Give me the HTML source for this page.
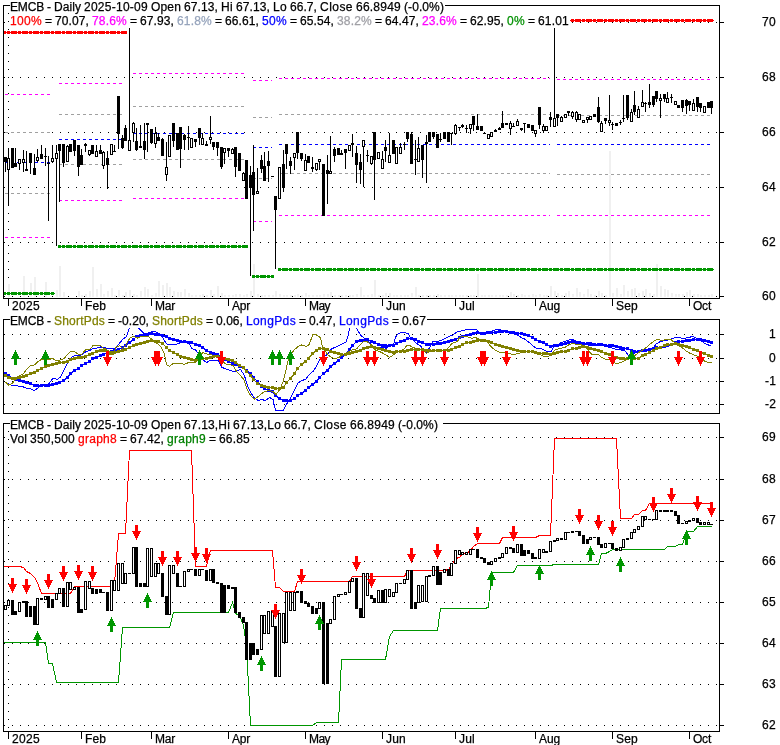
<!DOCTYPE html>
<html lang="en"><head><meta charset="utf-8"><title>EMCB - Daily chart</title>
<style>
html,body{margin:0;padding:0;background:#fff}
#c{position:relative;width:780px;height:745px;overflow:hidden;background:#fff;font-family:"Liberation Sans",Arial,sans-serif;font-size:12px;line-height:14px;color:#000}
#c svg{position:absolute;left:0;top:0}
#c span{position:absolute;white-space:pre;height:14px;-webkit-text-stroke:0.25px currentColor}
</style></head><body>
<div id="c">
<svg width="780" height="745" viewBox="0 0 780 745" shape-rendering="crispEdges">
<path d="M4 22h1v1h-1zM12 22h1v1h-1zM20 22h1v1h-1zM28 22h1v1h-1zM36 22h1v1h-1zM44 22h1v1h-1zM52 22h1v1h-1zM60 22h1v1h-1zM68 22h1v1h-1zM76 22h1v1h-1zM84 22h1v1h-1zM92 22h1v1h-1zM100 22h1v1h-1zM108 22h1v1h-1zM116 22h1v1h-1zM124 22h1v1h-1zM132 22h1v1h-1zM140 22h1v1h-1zM148 22h1v1h-1zM156 22h1v1h-1zM164 22h1v1h-1zM172 22h1v1h-1zM180 22h1v1h-1zM188 22h1v1h-1zM196 22h1v1h-1zM204 22h1v1h-1zM212 22h1v1h-1zM220 22h1v1h-1zM228 22h1v1h-1zM236 22h1v1h-1zM244 22h1v1h-1zM252 22h1v1h-1zM260 22h1v1h-1zM268 22h1v1h-1zM276 22h1v1h-1zM284 22h1v1h-1zM292 22h1v1h-1zM300 22h1v1h-1zM308 22h1v1h-1zM316 22h1v1h-1zM324 22h1v1h-1zM332 22h1v1h-1zM340 22h1v1h-1zM348 22h1v1h-1zM356 22h1v1h-1zM364 22h1v1h-1zM372 22h1v1h-1zM380 22h1v1h-1zM388 22h1v1h-1zM396 22h1v1h-1zM404 22h1v1h-1zM412 22h1v1h-1zM420 22h1v1h-1zM428 22h1v1h-1zM436 22h1v1h-1zM444 22h1v1h-1zM452 22h1v1h-1zM460 22h1v1h-1zM468 22h1v1h-1zM476 22h1v1h-1zM484 22h1v1h-1zM492 22h1v1h-1zM500 22h1v1h-1zM508 22h1v1h-1zM516 22h1v1h-1zM524 22h1v1h-1zM532 22h1v1h-1zM540 22h1v1h-1zM548 22h1v1h-1zM556 22h1v1h-1zM564 22h1v1h-1zM572 22h1v1h-1zM580 22h1v1h-1zM588 22h1v1h-1zM596 22h1v1h-1zM604 22h1v1h-1zM612 22h1v1h-1zM620 22h1v1h-1zM628 22h1v1h-1zM636 22h1v1h-1zM644 22h1v1h-1zM652 22h1v1h-1zM660 22h1v1h-1zM668 22h1v1h-1zM676 22h1v1h-1zM684 22h1v1h-1zM692 22h1v1h-1zM700 22h1v1h-1zM708 22h1v1h-1zM716 22h1v1h-1z" fill="#000"/>
<path d="M4 77h1v1h-1zM12 77h1v1h-1zM20 77h1v1h-1zM28 77h1v1h-1zM36 77h1v1h-1zM44 77h1v1h-1zM52 77h1v1h-1zM60 77h1v1h-1zM68 77h1v1h-1zM76 77h1v1h-1zM84 77h1v1h-1zM92 77h1v1h-1zM100 77h1v1h-1zM108 77h1v1h-1zM116 77h1v1h-1zM124 77h1v1h-1zM132 77h1v1h-1zM140 77h1v1h-1zM148 77h1v1h-1zM156 77h1v1h-1zM164 77h1v1h-1zM172 77h1v1h-1zM180 77h1v1h-1zM188 77h1v1h-1zM196 77h1v1h-1zM204 77h1v1h-1zM212 77h1v1h-1zM220 77h1v1h-1zM228 77h1v1h-1zM236 77h1v1h-1zM244 77h1v1h-1zM252 77h1v1h-1zM260 77h1v1h-1zM268 77h1v1h-1zM276 77h1v1h-1zM284 77h1v1h-1zM292 77h1v1h-1zM300 77h1v1h-1zM308 77h1v1h-1zM316 77h1v1h-1zM324 77h1v1h-1zM332 77h1v1h-1zM340 77h1v1h-1zM348 77h1v1h-1zM356 77h1v1h-1zM364 77h1v1h-1zM372 77h1v1h-1zM380 77h1v1h-1zM388 77h1v1h-1zM396 77h1v1h-1zM404 77h1v1h-1zM412 77h1v1h-1zM420 77h1v1h-1zM428 77h1v1h-1zM436 77h1v1h-1zM444 77h1v1h-1zM452 77h1v1h-1zM460 77h1v1h-1zM468 77h1v1h-1zM476 77h1v1h-1zM484 77h1v1h-1zM492 77h1v1h-1zM500 77h1v1h-1zM508 77h1v1h-1zM516 77h1v1h-1zM524 77h1v1h-1zM532 77h1v1h-1zM540 77h1v1h-1zM548 77h1v1h-1zM556 77h1v1h-1zM564 77h1v1h-1zM572 77h1v1h-1zM580 77h1v1h-1zM588 77h1v1h-1zM596 77h1v1h-1zM604 77h1v1h-1zM612 77h1v1h-1zM620 77h1v1h-1zM628 77h1v1h-1zM636 77h1v1h-1zM644 77h1v1h-1zM652 77h1v1h-1zM660 77h1v1h-1zM668 77h1v1h-1zM676 77h1v1h-1zM684 77h1v1h-1zM692 77h1v1h-1zM700 77h1v1h-1zM708 77h1v1h-1zM716 77h1v1h-1z" fill="#000"/>
<path d="M4 132h1v1h-1zM12 132h1v1h-1zM20 132h1v1h-1zM28 132h1v1h-1zM36 132h1v1h-1zM44 132h1v1h-1zM52 132h1v1h-1zM60 132h1v1h-1zM68 132h1v1h-1zM76 132h1v1h-1zM84 132h1v1h-1zM92 132h1v1h-1zM100 132h1v1h-1zM108 132h1v1h-1zM116 132h1v1h-1zM124 132h1v1h-1zM132 132h1v1h-1zM140 132h1v1h-1zM148 132h1v1h-1zM156 132h1v1h-1zM164 132h1v1h-1zM172 132h1v1h-1zM180 132h1v1h-1zM188 132h1v1h-1zM196 132h1v1h-1zM204 132h1v1h-1zM212 132h1v1h-1zM220 132h1v1h-1zM228 132h1v1h-1zM236 132h1v1h-1zM244 132h1v1h-1zM252 132h1v1h-1zM260 132h1v1h-1zM268 132h1v1h-1zM276 132h1v1h-1zM284 132h1v1h-1zM292 132h1v1h-1zM300 132h1v1h-1zM308 132h1v1h-1zM316 132h1v1h-1zM324 132h1v1h-1zM332 132h1v1h-1zM340 132h1v1h-1zM348 132h1v1h-1zM356 132h1v1h-1zM364 132h1v1h-1zM372 132h1v1h-1zM380 132h1v1h-1zM388 132h1v1h-1zM396 132h1v1h-1zM404 132h1v1h-1zM412 132h1v1h-1zM420 132h1v1h-1zM428 132h1v1h-1zM436 132h1v1h-1zM444 132h1v1h-1zM452 132h1v1h-1zM460 132h1v1h-1zM468 132h1v1h-1zM476 132h1v1h-1zM484 132h1v1h-1zM492 132h1v1h-1zM500 132h1v1h-1zM508 132h1v1h-1zM516 132h1v1h-1zM524 132h1v1h-1zM532 132h1v1h-1zM540 132h1v1h-1zM548 132h1v1h-1zM556 132h1v1h-1zM564 132h1v1h-1zM572 132h1v1h-1zM580 132h1v1h-1zM588 132h1v1h-1zM596 132h1v1h-1zM604 132h1v1h-1zM612 132h1v1h-1zM620 132h1v1h-1zM628 132h1v1h-1zM636 132h1v1h-1zM644 132h1v1h-1zM652 132h1v1h-1zM660 132h1v1h-1zM668 132h1v1h-1zM676 132h1v1h-1zM684 132h1v1h-1zM692 132h1v1h-1zM700 132h1v1h-1zM708 132h1v1h-1zM716 132h1v1h-1z" fill="#000"/>
<path d="M4 187h1v1h-1zM12 187h1v1h-1zM20 187h1v1h-1zM28 187h1v1h-1zM36 187h1v1h-1zM44 187h1v1h-1zM52 187h1v1h-1zM60 187h1v1h-1zM68 187h1v1h-1zM76 187h1v1h-1zM84 187h1v1h-1zM92 187h1v1h-1zM100 187h1v1h-1zM108 187h1v1h-1zM116 187h1v1h-1zM124 187h1v1h-1zM132 187h1v1h-1zM140 187h1v1h-1zM148 187h1v1h-1zM156 187h1v1h-1zM164 187h1v1h-1zM172 187h1v1h-1zM180 187h1v1h-1zM188 187h1v1h-1zM196 187h1v1h-1zM204 187h1v1h-1zM212 187h1v1h-1zM220 187h1v1h-1zM228 187h1v1h-1zM236 187h1v1h-1zM244 187h1v1h-1zM252 187h1v1h-1zM260 187h1v1h-1zM268 187h1v1h-1zM276 187h1v1h-1zM284 187h1v1h-1zM292 187h1v1h-1zM300 187h1v1h-1zM308 187h1v1h-1zM316 187h1v1h-1zM324 187h1v1h-1zM332 187h1v1h-1zM340 187h1v1h-1zM348 187h1v1h-1zM356 187h1v1h-1zM364 187h1v1h-1zM372 187h1v1h-1zM380 187h1v1h-1zM388 187h1v1h-1zM396 187h1v1h-1zM404 187h1v1h-1zM412 187h1v1h-1zM420 187h1v1h-1zM428 187h1v1h-1zM436 187h1v1h-1zM444 187h1v1h-1zM452 187h1v1h-1zM460 187h1v1h-1zM468 187h1v1h-1zM476 187h1v1h-1zM484 187h1v1h-1zM492 187h1v1h-1zM500 187h1v1h-1zM508 187h1v1h-1zM516 187h1v1h-1zM524 187h1v1h-1zM532 187h1v1h-1zM540 187h1v1h-1zM548 187h1v1h-1zM556 187h1v1h-1zM564 187h1v1h-1zM572 187h1v1h-1zM580 187h1v1h-1zM588 187h1v1h-1zM596 187h1v1h-1zM604 187h1v1h-1zM612 187h1v1h-1zM620 187h1v1h-1zM628 187h1v1h-1zM636 187h1v1h-1zM644 187h1v1h-1zM652 187h1v1h-1zM660 187h1v1h-1zM668 187h1v1h-1zM676 187h1v1h-1zM684 187h1v1h-1zM692 187h1v1h-1zM700 187h1v1h-1zM708 187h1v1h-1zM716 187h1v1h-1z" fill="#000"/>
<path d="M4 242h1v1h-1zM12 242h1v1h-1zM20 242h1v1h-1zM28 242h1v1h-1zM36 242h1v1h-1zM44 242h1v1h-1zM52 242h1v1h-1zM60 242h1v1h-1zM68 242h1v1h-1zM76 242h1v1h-1zM84 242h1v1h-1zM92 242h1v1h-1zM100 242h1v1h-1zM108 242h1v1h-1zM116 242h1v1h-1zM124 242h1v1h-1zM132 242h1v1h-1zM140 242h1v1h-1zM148 242h1v1h-1zM156 242h1v1h-1zM164 242h1v1h-1zM172 242h1v1h-1zM180 242h1v1h-1zM188 242h1v1h-1zM196 242h1v1h-1zM204 242h1v1h-1zM212 242h1v1h-1zM220 242h1v1h-1zM228 242h1v1h-1zM236 242h1v1h-1zM244 242h1v1h-1zM252 242h1v1h-1zM260 242h1v1h-1zM268 242h1v1h-1zM276 242h1v1h-1zM284 242h1v1h-1zM292 242h1v1h-1zM300 242h1v1h-1zM308 242h1v1h-1zM316 242h1v1h-1zM324 242h1v1h-1zM332 242h1v1h-1zM340 242h1v1h-1zM348 242h1v1h-1zM356 242h1v1h-1zM364 242h1v1h-1zM372 242h1v1h-1zM380 242h1v1h-1zM388 242h1v1h-1zM396 242h1v1h-1zM404 242h1v1h-1zM412 242h1v1h-1zM420 242h1v1h-1zM428 242h1v1h-1zM436 242h1v1h-1zM444 242h1v1h-1zM452 242h1v1h-1zM460 242h1v1h-1zM468 242h1v1h-1zM476 242h1v1h-1zM484 242h1v1h-1zM492 242h1v1h-1zM500 242h1v1h-1zM508 242h1v1h-1zM516 242h1v1h-1zM524 242h1v1h-1zM532 242h1v1h-1zM540 242h1v1h-1zM548 242h1v1h-1zM556 242h1v1h-1zM564 242h1v1h-1zM572 242h1v1h-1zM580 242h1v1h-1zM588 242h1v1h-1zM596 242h1v1h-1zM604 242h1v1h-1zM612 242h1v1h-1zM620 242h1v1h-1zM628 242h1v1h-1zM636 242h1v1h-1zM644 242h1v1h-1zM652 242h1v1h-1zM660 242h1v1h-1zM668 242h1v1h-1zM676 242h1v1h-1zM684 242h1v1h-1zM692 242h1v1h-1zM700 242h1v1h-1zM708 242h1v1h-1zM716 242h1v1h-1z" fill="#000"/>
<path d="M4 296h1v1h-1zM12 296h1v1h-1zM20 296h1v1h-1zM28 296h1v1h-1zM36 296h1v1h-1zM44 296h1v1h-1zM52 296h1v1h-1zM60 296h1v1h-1zM68 296h1v1h-1zM76 296h1v1h-1zM84 296h1v1h-1zM92 296h1v1h-1zM100 296h1v1h-1zM108 296h1v1h-1zM116 296h1v1h-1zM124 296h1v1h-1zM132 296h1v1h-1zM140 296h1v1h-1zM148 296h1v1h-1zM156 296h1v1h-1zM164 296h1v1h-1zM172 296h1v1h-1zM180 296h1v1h-1zM188 296h1v1h-1zM196 296h1v1h-1zM204 296h1v1h-1zM212 296h1v1h-1zM220 296h1v1h-1zM228 296h1v1h-1zM236 296h1v1h-1zM244 296h1v1h-1zM252 296h1v1h-1zM260 296h1v1h-1zM268 296h1v1h-1zM276 296h1v1h-1zM284 296h1v1h-1zM292 296h1v1h-1zM300 296h1v1h-1zM308 296h1v1h-1zM316 296h1v1h-1zM324 296h1v1h-1zM332 296h1v1h-1zM340 296h1v1h-1zM348 296h1v1h-1zM356 296h1v1h-1zM364 296h1v1h-1zM372 296h1v1h-1zM380 296h1v1h-1zM388 296h1v1h-1zM396 296h1v1h-1zM404 296h1v1h-1zM412 296h1v1h-1zM420 296h1v1h-1zM428 296h1v1h-1zM436 296h1v1h-1zM444 296h1v1h-1zM452 296h1v1h-1zM460 296h1v1h-1zM468 296h1v1h-1zM476 296h1v1h-1zM484 296h1v1h-1zM492 296h1v1h-1zM500 296h1v1h-1zM508 296h1v1h-1zM516 296h1v1h-1zM524 296h1v1h-1zM532 296h1v1h-1zM540 296h1v1h-1zM548 296h1v1h-1zM556 296h1v1h-1zM564 296h1v1h-1zM572 296h1v1h-1zM580 296h1v1h-1zM588 296h1v1h-1zM596 296h1v1h-1zM604 296h1v1h-1zM612 296h1v1h-1zM620 296h1v1h-1zM628 296h1v1h-1zM636 296h1v1h-1zM644 296h1v1h-1zM652 296h1v1h-1zM660 296h1v1h-1zM668 296h1v1h-1zM676 296h1v1h-1zM684 296h1v1h-1zM692 296h1v1h-1zM700 296h1v1h-1zM708 296h1v1h-1zM716 296h1v1h-1z" fill="#000"/>
<path d="M8 13h1v1h-1zM8 21h1v1h-1zM8 29h1v1h-1zM8 37h1v1h-1zM8 45h1v1h-1zM8 53h1v1h-1zM8 61h1v1h-1zM8 69h1v1h-1zM8 77h1v1h-1zM8 85h1v1h-1zM8 93h1v1h-1zM8 101h1v1h-1zM8 109h1v1h-1zM8 117h1v1h-1zM8 125h1v1h-1zM8 133h1v1h-1zM8 141h1v1h-1zM8 149h1v1h-1zM8 157h1v1h-1zM8 165h1v1h-1zM8 173h1v1h-1zM8 181h1v1h-1zM8 189h1v1h-1zM8 197h1v1h-1zM8 205h1v1h-1zM8 213h1v1h-1zM8 221h1v1h-1zM8 229h1v1h-1zM8 237h1v1h-1zM8 245h1v1h-1zM8 253h1v1h-1zM8 261h1v1h-1zM8 269h1v1h-1zM8 277h1v1h-1zM8 285h1v1h-1zM8 293h1v1h-1z" fill="#000"/>
<path d="M8 284h2v13h-2zM23 276h2v21h-2zM30 283h2v14h-2zM34 277h2v20h-2zM45 282h2v15h-2zM56 290h2v7h-2zM59 266h2v31h-2zM63 292h2v5h-2zM78 291h2v6h-2zM81 295h2v2h-2zM85 294h2v3h-2zM89 291h2v6h-2zM92 267h2v30h-2zM96 289h2v8h-2zM100 284h2v13h-2zM103 294h2v3h-2zM107 291h2v6h-2zM111 288h2v9h-2zM114 295h2v2h-2zM118 290h2v7h-2zM122 295h2v2h-2zM125 292h2v5h-2zM129 290h2v7h-2zM133 294h2v3h-2zM136 295h2v2h-2zM140 291h2v6h-2zM144 287h2v10h-2zM147 289h2v8h-2zM151 295h2v2h-2zM155 293h2v4h-2zM158 281h2v16h-2zM162 285h2v12h-2zM166 283h2v14h-2zM169 287h2v10h-2zM173 291h2v6h-2zM177 292h2v5h-2zM180 292h2v5h-2zM184 289h2v8h-2zM188 293h2v4h-2zM191 295h2v2h-2zM195 295h2v2h-2zM199 295h2v2h-2zM202 294h2v3h-2zM206 295h2v2h-2zM210 290h2v7h-2zM213 294h2v3h-2zM217 286h2v11h-2zM221 293h2v4h-2zM224 295h2v2h-2zM228 295h2v2h-2zM232 295h2v2h-2zM235 294h2v3h-2zM239 294h2v3h-2zM243 295h2v2h-2zM246 294h2v3h-2zM250 291h2v6h-2zM253 264h2v33h-2zM257 294h2v3h-2zM261 295h2v2h-2zM264 295h2v2h-2zM268 295h2v2h-2zM272 295h2v2h-2zM275 291h2v6h-2zM279 294h2v3h-2zM283 295h2v2h-2zM286 295h2v2h-2zM290 295h2v2h-2zM294 295h2v2h-2zM297 294h2v3h-2zM301 295h2v2h-2zM305 293h2v4h-2zM308 295h2v2h-2zM312 295h2v2h-2zM316 295h2v2h-2zM319 295h2v2h-2zM323 294h2v3h-2zM327 294h2v3h-2zM330 292h2v5h-2zM334 295h2v2h-2zM338 295h2v2h-2zM341 295h2v2h-2zM345 295h2v2h-2zM349 295h2v2h-2zM352 295h2v2h-2zM356 294h2v3h-2zM360 287h2v10h-2zM363 295h2v2h-2zM367 295h2v2h-2zM371 294h2v3h-2zM374 280h2v17h-2zM378 295h2v2h-2zM382 295h2v2h-2zM385 293h2v4h-2zM389 293h2v4h-2zM393 295h2v2h-2zM396 295h2v2h-2zM400 295h2v2h-2zM404 295h2v2h-2zM407 295h2v2h-2zM411 293h2v4h-2zM415 287h2v10h-2zM418 295h2v2h-2zM422 295h2v2h-2zM426 295h2v2h-2zM429 295h2v2h-2zM433 295h2v2h-2zM437 294h2v3h-2zM440 295h2v2h-2zM444 295h2v2h-2zM448 295h2v2h-2zM451 295h2v2h-2zM455 295h2v2h-2zM459 295h2v2h-2zM462 295h2v2h-2zM466 295h2v2h-2zM470 295h2v2h-2zM473 295h2v2h-2zM477 274h2v23h-2zM481 295h2v2h-2zM484 295h2v2h-2zM488 295h2v2h-2zM491 295h2v2h-2zM495 295h2v2h-2zM499 295h2v2h-2zM502 295h2v2h-2zM506 295h2v2h-2zM510 292h2v5h-2zM513 294h2v3h-2zM517 295h2v2h-2zM521 294h2v3h-2zM524 295h2v2h-2zM528 295h2v2h-2zM532 294h2v3h-2zM535 295h2v2h-2zM539 294h2v3h-2zM543 295h2v2h-2zM546 295h2v2h-2zM550 286h2v11h-2zM554 291h2v6h-2zM557 293h2v4h-2zM561 295h2v2h-2zM565 293h2v4h-2zM568 291h2v6h-2zM572 294h2v3h-2zM576 288h2v9h-2zM579 292h2v5h-2zM583 294h2v3h-2zM587 289h2v8h-2zM590 294h2v3h-2zM594 295h2v2h-2zM598 291h2v6h-2zM601 293h2v4h-2zM605 295h2v2h-2zM609 151h2v146h-2zM612 293h2v4h-2zM616 288h2v9h-2zM620 294h2v3h-2zM623 285h2v12h-2zM627 291h2v6h-2zM631 289h2v8h-2zM634 288h2v9h-2zM638 293h2v4h-2zM642 291h2v6h-2zM645 289h2v8h-2zM649 293h2v4h-2zM653 294h2v3h-2zM656 264h2v33h-2zM660 286h2v11h-2zM664 289h2v8h-2zM667 290h2v7h-2zM671 293h2v4h-2zM675 294h2v3h-2zM678 294h2v3h-2zM682 294h2v3h-2zM686 292h2v5h-2zM689 290h2v7h-2zM693 294h2v3h-2zM697 294h2v3h-2zM700 295h2v2h-2zM704 295h2v2h-2zM708 295h2v2h-2zM711 294h2v3h-2z" fill="#f0f0f0"/>
<rect x="5" y="94" width="45" height="1" fill="#fff"/>
<path d="M5 94h3v1h-3zM11 94h3v1h-3zM17 94h3v1h-3zM23 94h3v1h-3zM29 94h3v1h-3zM35 94h3v1h-3zM41 94h3v1h-3zM47 94h3v1h-3z" fill="#ff00ff"/>
<rect x="5" y="132" width="45" height="1" fill="#fff"/>
<path d="M5 132h3v1h-3zM11 132h3v1h-3zM17 132h3v1h-3zM23 132h3v1h-3zM29 132h3v1h-3zM35 132h3v1h-3zM41 132h3v1h-3zM47 132h3v1h-3z" fill="#a0a0a0"/>
<rect x="5" y="162" width="45" height="1" fill="#fff"/>
<path d="M5 162h3v1h-3zM11 162h3v1h-3zM17 162h3v1h-3zM23 162h3v1h-3zM29 162h3v1h-3zM35 162h3v1h-3zM41 162h3v1h-3zM47 162h3v1h-3z" fill="#0000ff"/>
<rect x="5" y="193" width="45" height="1" fill="#fff"/>
<path d="M5 193h3v1h-3zM11 193h3v1h-3zM17 193h3v1h-3zM23 193h3v1h-3zM29 193h3v1h-3zM35 193h3v1h-3zM41 193h3v1h-3zM47 193h3v1h-3z" fill="#a0a0a0"/>
<rect x="5" y="237" width="45" height="1" fill="#fff"/>
<path d="M5 237h3v1h-3zM11 237h3v1h-3zM17 237h3v1h-3zM23 237h3v1h-3zM29 237h3v1h-3zM35 237h3v1h-3zM41 237h3v1h-3zM47 237h3v1h-3z" fill="#ff00ff"/>
<rect x="59" y="83" width="63" height="1" fill="#fff"/>
<path d="M59 83h3v1h-3zM65 83h3v1h-3zM71 83h3v1h-3zM77 83h3v1h-3zM83 83h3v1h-3zM89 83h3v1h-3zM95 83h3v1h-3zM101 83h3v1h-3zM107 83h3v1h-3zM113 83h3v1h-3zM119 83h3v1h-3z" fill="#ff00ff"/>
<rect x="59" y="114" width="63" height="1" fill="#fff"/>
<path d="M59 114h3v1h-3zM65 114h3v1h-3zM71 114h3v1h-3zM77 114h3v1h-3zM83 114h3v1h-3zM89 114h3v1h-3zM95 114h3v1h-3zM101 114h3v1h-3zM107 114h3v1h-3zM113 114h3v1h-3zM119 114h3v1h-3z" fill="#a0a0a0"/>
<rect x="59" y="139" width="63" height="1" fill="#fff"/>
<path d="M59 139h3v1h-3zM65 139h3v1h-3zM71 139h3v1h-3zM77 139h3v1h-3zM83 139h3v1h-3zM89 139h3v1h-3zM95 139h3v1h-3zM101 139h3v1h-3zM107 139h3v1h-3zM113 139h3v1h-3zM119 139h3v1h-3z" fill="#0000ff"/>
<rect x="59" y="164" width="63" height="1" fill="#fff"/>
<path d="M59 164h3v1h-3zM65 164h3v1h-3zM71 164h3v1h-3zM77 164h3v1h-3zM83 164h3v1h-3zM89 164h3v1h-3zM95 164h3v1h-3zM101 164h3v1h-3zM107 164h3v1h-3zM113 164h3v1h-3zM119 164h3v1h-3z" fill="#a0a0a0"/>
<rect x="59" y="200" width="63" height="1" fill="#fff"/>
<path d="M59 200h3v1h-3zM65 200h3v1h-3zM71 200h3v1h-3zM77 200h3v1h-3zM83 200h3v1h-3zM89 200h3v1h-3zM95 200h3v1h-3zM101 200h3v1h-3zM107 200h3v1h-3zM113 200h3v1h-3zM119 200h3v1h-3z" fill="#ff00ff"/>
<rect x="133" y="73" width="112" height="1" fill="#fff"/>
<path d="M133 73h3v1h-3zM139 73h3v1h-3zM145 73h3v1h-3zM151 73h3v1h-3zM157 73h3v1h-3zM163 73h3v1h-3zM169 73h3v1h-3zM175 73h3v1h-3zM181 73h3v1h-3zM187 73h3v1h-3zM193 73h3v1h-3zM199 73h3v1h-3zM205 73h3v1h-3zM211 73h3v1h-3zM217 73h3v1h-3zM223 73h3v1h-3zM229 73h3v1h-3zM235 73h3v1h-3zM241 73h3v1h-3z" fill="#ff00ff"/>
<rect x="133" y="106" width="112" height="1" fill="#fff"/>
<path d="M133 106h3v1h-3zM139 106h3v1h-3zM145 106h3v1h-3zM151 106h3v1h-3zM157 106h3v1h-3zM163 106h3v1h-3zM169 106h3v1h-3zM175 106h3v1h-3zM181 106h3v1h-3zM187 106h3v1h-3zM193 106h3v1h-3zM199 106h3v1h-3zM205 106h3v1h-3zM211 106h3v1h-3zM217 106h3v1h-3zM223 106h3v1h-3zM229 106h3v1h-3zM235 106h3v1h-3zM241 106h3v1h-3z" fill="#a0a0a0"/>
<rect x="133" y="133" width="112" height="1" fill="#fff"/>
<path d="M133 133h3v1h-3zM139 133h3v1h-3zM145 133h3v1h-3zM151 133h3v1h-3zM157 133h3v1h-3zM163 133h3v1h-3zM169 133h3v1h-3zM175 133h3v1h-3zM181 133h3v1h-3zM187 133h3v1h-3zM193 133h3v1h-3zM199 133h3v1h-3zM205 133h3v1h-3zM211 133h3v1h-3zM217 133h3v1h-3zM223 133h3v1h-3zM229 133h3v1h-3zM235 133h3v1h-3zM241 133h3v1h-3z" fill="#0000ff"/>
<rect x="133" y="159" width="112" height="1" fill="#fff"/>
<path d="M133 159h3v1h-3zM139 159h3v1h-3zM145 159h3v1h-3zM151 159h3v1h-3zM157 159h3v1h-3zM163 159h3v1h-3zM169 159h3v1h-3zM175 159h3v1h-3zM181 159h3v1h-3zM187 159h3v1h-3zM193 159h3v1h-3zM199 159h3v1h-3zM205 159h3v1h-3zM211 159h3v1h-3zM217 159h3v1h-3zM223 159h3v1h-3zM229 159h3v1h-3zM235 159h3v1h-3zM241 159h3v1h-3z" fill="#a0a0a0"/>
<rect x="133" y="198" width="112" height="1" fill="#fff"/>
<path d="M133 198h3v1h-3zM139 198h3v1h-3zM145 198h3v1h-3zM151 198h3v1h-3zM157 198h3v1h-3zM163 198h3v1h-3zM169 198h3v1h-3zM175 198h3v1h-3zM181 198h3v1h-3zM187 198h3v1h-3zM193 198h3v1h-3zM199 198h3v1h-3zM205 198h3v1h-3zM211 198h3v1h-3zM217 198h3v1h-3zM223 198h3v1h-3zM229 198h3v1h-3zM235 198h3v1h-3zM241 198h3v1h-3z" fill="#ff00ff"/>
<rect x="253" y="80" width="19" height="1" fill="#fff"/>
<path d="M253 80h3v1h-3zM259 80h3v1h-3zM265 80h3v1h-3zM271 80h1v1h-1z" fill="#ff00ff"/>
<rect x="253" y="117" width="19" height="1" fill="#fff"/>
<path d="M253 117h3v1h-3zM259 117h3v1h-3zM265 117h3v1h-3zM271 117h1v1h-1z" fill="#a0a0a0"/>
<rect x="253" y="147" width="19" height="1" fill="#fff"/>
<path d="M253 147h3v1h-3zM259 147h3v1h-3zM265 147h3v1h-3zM271 147h1v1h-1z" fill="#0000ff"/>
<rect x="253" y="178" width="19" height="1" fill="#fff"/>
<path d="M253 178h3v1h-3zM259 178h3v1h-3zM265 178h3v1h-3zM271 178h1v1h-1z" fill="#a0a0a0"/>
<rect x="253" y="221" width="19" height="1" fill="#fff"/>
<path d="M253 221h3v1h-3zM259 221h3v1h-3zM265 221h3v1h-3zM271 221h1v1h-1z" fill="#ff00ff"/>
<rect x="279" y="78" width="271" height="1" fill="#fff"/>
<path d="M279 78h3v1h-3zM285 78h3v1h-3zM291 78h3v1h-3zM297 78h3v1h-3zM303 78h3v1h-3zM309 78h3v1h-3zM315 78h3v1h-3zM321 78h3v1h-3zM327 78h3v1h-3zM333 78h3v1h-3zM339 78h3v1h-3zM345 78h3v1h-3zM351 78h3v1h-3zM357 78h3v1h-3zM363 78h3v1h-3zM369 78h3v1h-3zM375 78h3v1h-3zM381 78h3v1h-3zM387 78h3v1h-3zM393 78h3v1h-3zM399 78h3v1h-3zM405 78h3v1h-3zM411 78h3v1h-3zM417 78h3v1h-3zM423 78h3v1h-3zM429 78h3v1h-3zM435 78h3v1h-3zM441 78h3v1h-3zM447 78h3v1h-3zM453 78h3v1h-3zM459 78h3v1h-3zM465 78h3v1h-3zM471 78h3v1h-3zM477 78h3v1h-3zM483 78h3v1h-3zM489 78h3v1h-3zM495 78h3v1h-3zM501 78h3v1h-3zM507 78h3v1h-3zM513 78h3v1h-3zM519 78h3v1h-3zM525 78h3v1h-3zM531 78h3v1h-3zM537 78h3v1h-3zM543 78h3v1h-3zM549 78h1v1h-1z" fill="#ff00ff"/>
<rect x="279" y="114" width="271" height="1" fill="#fff"/>
<path d="M279 114h3v1h-3zM285 114h3v1h-3zM291 114h3v1h-3zM297 114h3v1h-3zM303 114h3v1h-3zM309 114h3v1h-3zM315 114h3v1h-3zM321 114h3v1h-3zM327 114h3v1h-3zM333 114h3v1h-3zM339 114h3v1h-3zM345 114h3v1h-3zM351 114h3v1h-3zM357 114h3v1h-3zM363 114h3v1h-3zM369 114h3v1h-3zM375 114h3v1h-3zM381 114h3v1h-3zM387 114h3v1h-3zM393 114h3v1h-3zM399 114h3v1h-3zM405 114h3v1h-3zM411 114h3v1h-3zM417 114h3v1h-3zM423 114h3v1h-3zM429 114h3v1h-3zM435 114h3v1h-3zM441 114h3v1h-3zM447 114h3v1h-3zM453 114h3v1h-3zM459 114h3v1h-3zM465 114h3v1h-3zM471 114h3v1h-3zM477 114h3v1h-3zM483 114h3v1h-3zM489 114h3v1h-3zM495 114h3v1h-3zM501 114h3v1h-3zM507 114h3v1h-3zM513 114h3v1h-3zM519 114h3v1h-3zM525 114h3v1h-3zM531 114h3v1h-3zM537 114h3v1h-3zM543 114h3v1h-3zM549 114h1v1h-1z" fill="#a0a0a0"/>
<rect x="279" y="144" width="271" height="1" fill="#fff"/>
<path d="M279 144h3v1h-3zM285 144h3v1h-3zM291 144h3v1h-3zM297 144h3v1h-3zM303 144h3v1h-3zM309 144h3v1h-3zM315 144h3v1h-3zM321 144h3v1h-3zM327 144h3v1h-3zM333 144h3v1h-3zM339 144h3v1h-3zM345 144h3v1h-3zM351 144h3v1h-3zM357 144h3v1h-3zM363 144h3v1h-3zM369 144h3v1h-3zM375 144h3v1h-3zM381 144h3v1h-3zM387 144h3v1h-3zM393 144h3v1h-3zM399 144h3v1h-3zM405 144h3v1h-3zM411 144h3v1h-3zM417 144h3v1h-3zM423 144h3v1h-3zM429 144h3v1h-3zM435 144h3v1h-3zM441 144h3v1h-3zM447 144h3v1h-3zM453 144h3v1h-3zM459 144h3v1h-3zM465 144h3v1h-3zM471 144h3v1h-3zM477 144h3v1h-3zM483 144h3v1h-3zM489 144h3v1h-3zM495 144h3v1h-3zM501 144h3v1h-3zM507 144h3v1h-3zM513 144h3v1h-3zM519 144h3v1h-3zM525 144h3v1h-3zM531 144h3v1h-3zM537 144h3v1h-3zM543 144h3v1h-3zM549 144h1v1h-1z" fill="#0000ff"/>
<rect x="279" y="173" width="271" height="1" fill="#fff"/>
<path d="M279 173h3v1h-3zM285 173h3v1h-3zM291 173h3v1h-3zM297 173h3v1h-3zM303 173h3v1h-3zM309 173h3v1h-3zM315 173h3v1h-3zM321 173h3v1h-3zM327 173h3v1h-3zM333 173h3v1h-3zM339 173h3v1h-3zM345 173h3v1h-3zM351 173h3v1h-3zM357 173h3v1h-3zM363 173h3v1h-3zM369 173h3v1h-3zM375 173h3v1h-3zM381 173h3v1h-3zM387 173h3v1h-3zM393 173h3v1h-3zM399 173h3v1h-3zM405 173h3v1h-3zM411 173h3v1h-3zM417 173h3v1h-3zM423 173h3v1h-3zM429 173h3v1h-3zM435 173h3v1h-3zM441 173h3v1h-3zM447 173h3v1h-3zM453 173h3v1h-3zM459 173h3v1h-3zM465 173h3v1h-3zM471 173h3v1h-3zM477 173h3v1h-3zM483 173h3v1h-3zM489 173h3v1h-3zM495 173h3v1h-3zM501 173h3v1h-3zM507 173h3v1h-3zM513 173h3v1h-3zM519 173h3v1h-3zM525 173h3v1h-3zM531 173h3v1h-3zM537 173h3v1h-3zM543 173h3v1h-3zM549 173h1v1h-1z" fill="#a0a0a0"/>
<rect x="279" y="215" width="271" height="1" fill="#fff"/>
<path d="M279 215h3v1h-3zM285 215h3v1h-3zM291 215h3v1h-3zM297 215h3v1h-3zM303 215h3v1h-3zM309 215h3v1h-3zM315 215h3v1h-3zM321 215h3v1h-3zM327 215h3v1h-3zM333 215h3v1h-3zM339 215h3v1h-3zM345 215h3v1h-3zM351 215h3v1h-3zM357 215h3v1h-3zM363 215h3v1h-3zM369 215h3v1h-3zM375 215h3v1h-3zM381 215h3v1h-3zM387 215h3v1h-3zM393 215h3v1h-3zM399 215h3v1h-3zM405 215h3v1h-3zM411 215h3v1h-3zM417 215h3v1h-3zM423 215h3v1h-3zM429 215h3v1h-3zM435 215h3v1h-3zM441 215h3v1h-3zM447 215h3v1h-3zM453 215h3v1h-3zM459 215h3v1h-3zM465 215h3v1h-3zM471 215h3v1h-3zM477 215h3v1h-3zM483 215h3v1h-3zM489 215h3v1h-3zM495 215h3v1h-3zM501 215h3v1h-3zM507 215h3v1h-3zM513 215h3v1h-3zM519 215h3v1h-3zM525 215h3v1h-3zM531 215h3v1h-3zM537 215h3v1h-3zM543 215h3v1h-3zM549 215h1v1h-1z" fill="#ff00ff"/>
<rect x="557" y="79" width="153" height="1" fill="#fff"/>
<path d="M557 79h3v1h-3zM563 79h3v1h-3zM569 79h3v1h-3zM575 79h3v1h-3zM581 79h3v1h-3zM587 79h3v1h-3zM593 79h3v1h-3zM599 79h3v1h-3zM605 79h3v1h-3zM611 79h3v1h-3zM617 79h3v1h-3zM623 79h3v1h-3zM629 79h3v1h-3zM635 79h3v1h-3zM641 79h3v1h-3zM647 79h3v1h-3zM653 79h3v1h-3zM659 79h3v1h-3zM665 79h3v1h-3zM671 79h3v1h-3zM677 79h3v1h-3zM683 79h3v1h-3zM689 79h3v1h-3zM695 79h3v1h-3zM701 79h3v1h-3zM707 79h3v1h-3z" fill="#ff00ff"/>
<rect x="557" y="115" width="153" height="1" fill="#fff"/>
<path d="M557 115h3v1h-3zM563 115h3v1h-3zM569 115h3v1h-3zM575 115h3v1h-3zM581 115h3v1h-3zM587 115h3v1h-3zM593 115h3v1h-3zM599 115h3v1h-3zM605 115h3v1h-3zM611 115h3v1h-3zM617 115h3v1h-3zM623 115h3v1h-3zM629 115h3v1h-3zM635 115h3v1h-3zM641 115h3v1h-3zM647 115h3v1h-3zM653 115h3v1h-3zM659 115h3v1h-3zM665 115h3v1h-3zM671 115h3v1h-3zM677 115h3v1h-3zM683 115h3v1h-3zM689 115h3v1h-3zM695 115h3v1h-3zM701 115h3v1h-3zM707 115h3v1h-3z" fill="#a0a0a0"/>
<rect x="557" y="144" width="153" height="1" fill="#fff"/>
<path d="M557 144h3v1h-3zM563 144h3v1h-3zM569 144h3v1h-3zM575 144h3v1h-3zM581 144h3v1h-3zM587 144h3v1h-3zM593 144h3v1h-3zM599 144h3v1h-3zM605 144h3v1h-3zM611 144h3v1h-3zM617 144h3v1h-3zM623 144h3v1h-3zM629 144h3v1h-3zM635 144h3v1h-3zM641 144h3v1h-3zM647 144h3v1h-3zM653 144h3v1h-3zM659 144h3v1h-3zM665 144h3v1h-3zM671 144h3v1h-3zM677 144h3v1h-3zM683 144h3v1h-3zM689 144h3v1h-3zM695 144h3v1h-3zM701 144h3v1h-3zM707 144h3v1h-3z" fill="#0000ff"/>
<rect x="557" y="174" width="153" height="1" fill="#fff"/>
<path d="M557 174h3v1h-3zM563 174h3v1h-3zM569 174h3v1h-3zM575 174h3v1h-3zM581 174h3v1h-3zM587 174h3v1h-3zM593 174h3v1h-3zM599 174h3v1h-3zM605 174h3v1h-3zM611 174h3v1h-3zM617 174h3v1h-3zM623 174h3v1h-3zM629 174h3v1h-3zM635 174h3v1h-3zM641 174h3v1h-3zM647 174h3v1h-3zM653 174h3v1h-3zM659 174h3v1h-3zM665 174h3v1h-3zM671 174h3v1h-3zM677 174h3v1h-3zM683 174h3v1h-3zM689 174h3v1h-3zM695 174h3v1h-3zM701 174h3v1h-3zM707 174h3v1h-3z" fill="#a0a0a0"/>
<rect x="557" y="215" width="153" height="1" fill="#fff"/>
<path d="M557 215h3v1h-3zM563 215h3v1h-3zM569 215h3v1h-3zM575 215h3v1h-3zM581 215h3v1h-3zM587 215h3v1h-3zM593 215h3v1h-3zM599 215h3v1h-3zM605 215h3v1h-3zM611 215h3v1h-3zM617 215h3v1h-3zM623 215h3v1h-3zM629 215h3v1h-3zM635 215h3v1h-3zM641 215h3v1h-3zM647 215h3v1h-3zM653 215h3v1h-3zM659 215h3v1h-3zM665 215h3v1h-3zM671 215h3v1h-3zM677 215h3v1h-3zM683 215h3v1h-3zM689 215h3v1h-3zM695 215h3v1h-3zM701 215h3v1h-3zM707 215h3v1h-3z" fill="#ff00ff"/>
<path d="M4 293h51v1h-51zM4 292h2v3h-2zM7 292h3v3h-3zM11 292h6v3h-6zM18 292h3v3h-3zM22 292h6v3h-6zM29 292h3v3h-3zM33 292h6v3h-6zM40 292h3v3h-3zM44 292h6v3h-6zM51 292h3v3h-3z" fill="#009600"/>
<path d="M58 246h190v1h-190zM58 245h3v3h-3zM62 245h3v3h-3zM66 245h6v3h-6zM73 245h3v3h-3zM77 245h6v3h-6zM84 245h3v3h-3zM88 245h6v3h-6zM95 245h3v3h-3zM99 245h6v3h-6zM106 245h3v3h-3zM110 245h6v3h-6zM117 245h3v3h-3zM121 245h6v3h-6zM128 245h3v3h-3zM132 245h6v3h-6zM139 245h3v3h-3zM143 245h6v3h-6zM150 245h3v3h-3zM154 245h6v3h-6zM161 245h3v3h-3zM165 245h6v3h-6zM172 245h3v3h-3zM176 245h6v3h-6zM183 245h3v3h-3zM187 245h6v3h-6zM194 245h3v3h-3zM198 245h6v3h-6zM205 245h3v3h-3zM209 245h6v3h-6zM216 245h3v3h-3zM220 245h6v3h-6zM227 245h3v3h-3zM231 245h6v3h-6zM238 245h3v3h-3zM242 245h6v3h-6z" fill="#009600"/>
<path d="M252 276h22v1h-22zM252 275h3v3h-3zM256 275h3v3h-3zM260 275h6v3h-6zM267 275h3v3h-3zM271 275h3v3h-3z" fill="#009600"/>
<path d="M278 269h209v1h-209zM278 268h3v3h-3zM282 268h6v3h-6zM289 268h3v3h-3zM293 268h6v3h-6zM300 268h3v3h-3zM304 268h6v3h-6zM311 268h3v3h-3zM315 268h6v3h-6zM322 268h3v3h-3zM326 268h6v3h-6zM333 268h3v3h-3zM337 268h6v3h-6zM344 268h3v3h-3zM348 268h6v3h-6zM355 268h3v3h-3zM359 268h6v3h-6zM366 268h3v3h-3zM370 268h6v3h-6zM377 268h3v3h-3zM381 268h6v3h-6zM388 268h3v3h-3zM392 268h6v3h-6zM399 268h3v3h-3zM403 268h6v3h-6zM410 268h3v3h-3zM414 268h6v3h-6zM421 268h3v3h-3zM425 268h6v3h-6zM432 268h3v3h-3zM436 268h6v3h-6zM443 268h3v3h-3zM447 268h6v3h-6zM454 268h3v3h-3zM458 268h6v3h-6zM465 268h3v3h-3zM469 268h6v3h-6zM476 268h3v3h-3zM480 268h6v3h-6z" fill="#009600"/>
<path d="M487 269h227v1h-227zM487 268h6v3h-6zM494 268h3v3h-3zM498 268h6v3h-6zM505 268h3v3h-3zM509 268h6v3h-6zM516 268h3v3h-3zM520 268h6v3h-6zM527 268h3v3h-3zM531 268h6v3h-6zM538 268h3v3h-3zM542 268h6v3h-6zM549 268h3v3h-3zM553 268h6v3h-6zM560 268h3v3h-3zM564 268h6v3h-6zM571 268h3v3h-3zM575 268h6v3h-6zM582 268h3v3h-3zM586 268h6v3h-6zM593 268h3v3h-3zM597 268h6v3h-6zM604 268h3v3h-3zM608 268h6v3h-6zM615 268h3v3h-3zM619 268h6v3h-6zM626 268h3v3h-3zM630 268h6v3h-6zM637 268h3v3h-3zM641 268h6v3h-6zM648 268h3v3h-3zM652 268h6v3h-6zM659 268h3v3h-3zM663 268h6v3h-6zM670 268h3v3h-3zM674 268h6v3h-6zM681 268h3v3h-3zM685 268h6v3h-6zM692 268h3v3h-3zM696 268h6v3h-6zM703 268h3v3h-3zM707 268h6v3h-6z" fill="#009600"/>
<path d="M4 32h123v1h-123zM4 31h2v3h-2zM7 31h3v3h-3zM11 31h6v3h-6zM18 31h3v3h-3zM22 31h6v3h-6zM29 31h3v3h-3zM33 31h6v3h-6zM40 31h3v3h-3zM44 31h6v3h-6zM51 31h3v3h-3zM55 31h6v3h-6zM62 31h3v3h-3zM66 31h6v3h-6zM73 31h3v3h-3zM77 31h6v3h-6zM84 31h3v3h-3zM88 31h6v3h-6zM95 31h3v3h-3zM99 31h6v3h-6zM106 31h3v3h-3zM110 31h6v3h-6zM117 31h3v3h-3zM121 31h6v3h-6z" fill="#ff0000"/>
<path d="M278 20h209v1h-209zM278 19h3v3h-3zM282 19h6v3h-6zM289 19h3v3h-3zM293 19h6v3h-6zM300 19h3v3h-3zM304 19h6v3h-6zM311 19h3v3h-3zM315 19h6v3h-6zM322 19h3v3h-3zM326 19h6v3h-6zM333 19h3v3h-3zM337 19h6v3h-6zM344 19h3v3h-3zM348 19h6v3h-6zM355 19h3v3h-3zM359 19h6v3h-6zM366 19h3v3h-3zM370 19h6v3h-6zM377 19h3v3h-3zM381 19h6v3h-6zM388 19h3v3h-3zM392 19h6v3h-6zM399 19h3v3h-3zM403 19h6v3h-6zM410 19h3v3h-3zM414 19h6v3h-6zM421 19h3v3h-3zM425 19h6v3h-6zM432 19h3v3h-3zM436 19h6v3h-6zM443 19h3v3h-3zM447 19h6v3h-6zM454 19h3v3h-3zM458 19h6v3h-6zM465 19h3v3h-3zM469 19h6v3h-6zM476 19h3v3h-3zM480 19h6v3h-6z" fill="#ff0000"/>
<path d="M487 20h227v1h-227zM487 19h6v3h-6zM494 19h3v3h-3zM498 19h6v3h-6zM505 19h3v3h-3zM509 19h6v3h-6zM516 19h3v3h-3zM520 19h6v3h-6zM527 19h3v3h-3zM531 19h6v3h-6zM538 19h3v3h-3zM542 19h6v3h-6zM549 19h3v3h-3zM553 19h6v3h-6zM560 19h3v3h-3zM564 19h6v3h-6zM571 19h3v3h-3zM575 19h6v3h-6zM582 19h3v3h-3zM586 19h6v3h-6zM593 19h3v3h-3zM597 19h6v3h-6zM604 19h3v3h-3zM608 19h6v3h-6zM615 19h3v3h-3zM619 19h6v3h-6zM626 19h3v3h-3zM630 19h6v3h-6zM637 19h3v3h-3zM641 19h6v3h-6zM648 19h3v3h-3zM652 19h6v3h-6zM659 19h3v3h-3zM663 19h6v3h-6zM670 19h3v3h-3zM674 19h6v3h-6zM681 19h3v3h-3zM685 19h6v3h-6zM692 19h3v3h-3zM696 19h6v3h-6zM703 19h3v3h-3zM707 19h6v3h-6z" fill="#ff0000"/>
<path d="M5 162h1v10h-1zM4 157h3v5h-3zM8 148h1v10h-1zM8 170h1v36h-1zM7 158h3v12h-3zM11 148h3v20h-3zM15 148h1v15h-1zM14 163h3v4h-3zM19 164h1v6h-1zM18 159h3v5h-3zM23 150h1v9h-1zM23 163h1v9h-1zM22 159h3v4h-3zM26 151h1v18h-1zM25 169h3v2h-3zM30 163h1v11h-1zM29 153h3v10h-3zM34 154h1v14h-1zM33 168h3v7h-3zM37 149h1v8h-1zM37 161h1v1h-1zM36 157h3v4h-3zM41 145h1v9h-1zM40 154h3v5h-3zM45 148h1v8h-1zM45 157h1v9h-1zM44 156h3v1h-3zM48 156h1v7h-1zM48 164h1v57h-1zM47 163h3v1h-3zM52 145h1v13h-1zM52 162h1v1h-1zM51 158h3v4h-3zM56 145h1v8h-1zM56 159h1v87h-1zM55 153h3v6h-3zM59 151h1v51h-1zM58 144h3v7h-3zM63 163h1v4h-1zM62 144h3v19h-3zM67 145h1v1h-1zM66 146h3v16h-3zM69 144h3v8h-3zM74 151h1v5h-1zM73 140h3v11h-3zM78 167h1v9h-1zM77 145h3v22h-3zM81 149h1v6h-1zM80 155h3v10h-3zM85 143h1v1h-1zM85 146h1v6h-1zM84 144h3v2h-3zM89 155h1v1h-1zM88 150h3v5h-3zM91 145h3v9h-3zM96 145h1v6h-1zM95 151h3v6h-3zM100 145h1v5h-1zM99 150h3v4h-3zM103 151h1v1h-1zM103 166h1v3h-1zM102 152h3v14h-3zM107 151h1v7h-1zM107 165h1v24h-1zM106 158h3v7h-3zM110 144h3v11h-3zM114 145h1v6h-1zM113 151h3v1h-3zM118 134h1v15h-1zM117 96h3v38h-3zM122 135h1v3h-1zM122 148h1v1h-1zM121 138h3v10h-3zM125 125h1v3h-1zM124 128h3v13h-3zM129 28h1v112h-1zM128 140h3v11h-3zM133 122h1v1h-1zM133 133h1v9h-1zM132 123h3v10h-3zM136 128h1v13h-1zM136 150h1v1h-1zM135 141h3v9h-3zM140 125h1v21h-1zM139 146h3v2h-3zM144 123h1v18h-1zM144 150h1v9h-1zM143 141h3v9h-3zM147 125h1v27h-1zM146 123h3v2h-3zM151 143h1v1h-1zM150 129h3v14h-3zM155 127h1v6h-1zM155 144h1v4h-1zM154 133h3v11h-3zM158 133h1v4h-1zM157 137h3v4h-3zM162 138h1v1h-1zM161 139h3v17h-3zM166 142h1v25h-1zM166 175h1v6h-1zM165 167h3v8h-3zM168 135h3v22h-3zM173 141h1v6h-1zM172 123h3v18h-3zM176 133h3v17h-3zM180 149h1v19h-1zM179 127h3v22h-3zM184 134h1v1h-1zM184 140h1v10h-1zM183 135h3v5h-3zM188 126h1v11h-1zM188 138h1v12h-1zM187 137h3v1h-3zM190 138h3v10h-3zM195 142h1v5h-1zM194 139h3v3h-3zM199 138h1v7h-1zM198 128h3v10h-3zM202 133h1v5h-1zM201 138h3v7h-3zM206 141h1v3h-1zM205 144h3v2h-3zM210 116h1v21h-1zM210 140h1v4h-1zM209 137h3v3h-3zM213 147h1v3h-1zM212 142h3v5h-3zM217 148h1v8h-1zM216 142h3v6h-3zM221 167h1v2h-1zM220 147h3v20h-3zM224 153h1v11h-1zM223 148h3v5h-3zM228 151h1v6h-1zM227 148h3v3h-3zM232 148h1v1h-1zM231 149h3v5h-3zM235 167h1v10h-1zM234 147h3v20h-3zM238 153h3v18h-3zM243 172h1v1h-1zM242 173h3v8h-3zM245 160h3v39h-3zM250 166h1v9h-1zM250 188h1v88h-1zM249 175h3v13h-3zM253 145h1v27h-1zM253 195h1v36h-1zM252 172h3v23h-3zM257 168h1v23h-1zM256 191h3v3h-3zM261 155h1v5h-1zM261 169h1v4h-1zM260 160h3v9h-3zM264 152h1v14h-1zM263 166h3v15h-3zM268 151h1v10h-1zM268 166h1v16h-1zM267 161h3v5h-3zM271 176h3v1h-3zM275 210h1v59h-1zM274 196h3v14h-3zM278 167h3v32h-3zM283 150h1v14h-1zM283 188h1v4h-1zM282 164h3v24h-3zM286 154h1v15h-1zM285 144h3v10h-3zM290 157h1v4h-1zM290 166h1v8h-1zM289 161h3v5h-3zM294 158h1v12h-1zM293 153h3v5h-3zM297 153h1v6h-1zM296 132h3v21h-3zM301 159h1v2h-1zM300 153h3v6h-3zM305 154h1v6h-1zM304 160h3v11h-3zM307 156h3v7h-3zM312 157h1v10h-1zM312 169h1v3h-1zM311 167h3v2h-3zM316 170h1v1h-1zM315 163h3v7h-3zM319 162h1v8h-1zM318 159h3v3h-3zM322 164h3v52h-3zM327 155h1v15h-1zM327 174h1v30h-1zM326 170h3v4h-3zM330 136h1v35h-1zM329 171h3v3h-3zM334 147h1v2h-1zM334 156h1v6h-1zM333 149h3v7h-3zM337 148h3v7h-3zM341 150h1v3h-1zM340 153h3v2h-3zM345 153h1v16h-1zM344 149h3v4h-3zM348 145h3v6h-3zM352 134h1v9h-1zM352 145h1v12h-1zM351 143h3v2h-3zM356 146h1v7h-1zM356 165h1v18h-1zM355 153h3v12h-3zM360 154h1v8h-1zM360 170h1v14h-1zM359 162h3v8h-3zM363 147h1v40h-1zM362 140h3v7h-3zM367 150h1v5h-1zM367 156h1v6h-1zM366 155h3v1h-3zM371 164h1v1h-1zM370 156h3v8h-3zM374 160h1v40h-1zM373 132h3v28h-3zM377 152h3v7h-3zM382 151h1v8h-1zM381 159h3v10h-3zM385 140h1v7h-1zM385 151h1v11h-1zM384 147h3v4h-3zM389 133h1v22h-1zM388 155h3v8h-3zM392 140h3v14h-3zM395 147h3v17h-3zM400 143h1v4h-1zM399 147h3v7h-3zM404 142h1v2h-1zM404 145h1v5h-1zM403 144h3v1h-3zM407 139h1v3h-1zM406 132h3v7h-3zM411 132h1v2h-1zM410 134h3v30h-3zM415 140h1v19h-1zM415 160h1v15h-1zM414 159h3v1h-3zM418 137h1v11h-1zM417 148h3v14h-3zM422 160h1v18h-1zM421 145h3v15h-3zM426 135h1v7h-1zM426 144h1v39h-1zM425 142h3v2h-3zM428 132h3v10h-3zM433 137h1v2h-1zM432 132h3v5h-3zM436 134h3v14h-3zM440 133h1v6h-1zM440 140h1v2h-1zM439 139h3v1h-3zM443 132h3v7h-3zM447 132h3v10h-3zM451 134h1v11h-1zM450 133h3v1h-3zM455 124h1v1h-1zM455 134h1v1h-1zM454 125h3v9h-3zM459 128h1v3h-1zM458 127h3v1h-3zM462 124h1v1h-1zM462 127h1v1h-1zM461 125h3v2h-3zM466 125h1v3h-1zM466 129h1v4h-1zM465 128h3v1h-3zM470 129h1v5h-1zM469 124h3v5h-3zM473 125h1v6h-1zM472 116h3v9h-3zM477 114h1v12h-1zM476 126h3v4h-3zM480 126h3v5h-3zM484 132h1v1h-1zM483 133h3v1h-3zM487 134h3v5h-3zM490 132h3v5h-3zM495 129h1v1h-1zM494 130h3v2h-3zM499 127h1v1h-1zM498 128h3v2h-3zM502 111h1v12h-1zM501 123h3v5h-3zM505 123h3v2h-3zM510 121h1v2h-1zM510 129h1v6h-1zM509 123h3v6h-3zM513 123h1v3h-1zM512 126h3v1h-3zM517 119h1v2h-1zM516 121h3v5h-3zM521 130h1v1h-1zM520 128h3v2h-3zM524 124h1v9h-1zM523 123h3v1h-3zM527 124h3v4h-3zM531 125h3v6h-3zM535 134h1v3h-1zM534 130h3v4h-3zM539 125h1v4h-1zM538 107h3v18h-3zM543 124h1v2h-1zM543 131h1v2h-1zM542 126h3v5h-3zM545 126h3v5h-3zM550 112h1v5h-1zM550 120h1v7h-1zM549 117h3v3h-3zM554 28h1v90h-1zM553 118h3v9h-3zM557 118h1v8h-1zM556 114h3v4h-3zM561 116h1v1h-1zM560 117h3v5h-3zM564 114h3v4h-3zM568 113h1v3h-1zM567 111h3v2h-3zM572 111h1v1h-1zM572 117h1v2h-1zM571 112h3v5h-3zM576 111h1v1h-1zM576 120h1v2h-1zM575 112h3v8h-3zM578 114h3v6h-3zM582 120h3v3h-3zM587 120h1v3h-1zM586 117h3v3h-3zM589 116h3v4h-3zM593 114h3v3h-3zM598 97h1v10h-1zM598 122h1v1h-1zM597 107h3v15h-3zM601 121h1v2h-1zM600 123h3v9h-3zM605 121h1v3h-1zM604 118h3v3h-3zM609 95h1v25h-1zM609 123h1v3h-1zM608 120h3v3h-3zM612 122h1v2h-1zM612 125h1v5h-1zM611 124h3v1h-3zM615 123h3v3h-3zM620 120h1v2h-1zM620 123h1v2h-1zM619 122h3v1h-3zM623 95h1v23h-1zM623 119h1v3h-1zM622 118h3v1h-3zM627 118h1v2h-1zM626 95h3v23h-3zM631 109h1v3h-1zM630 112h3v10h-3zM634 91h1v14h-1zM634 112h1v3h-1zM633 105h3v7h-3zM638 106h1v3h-1zM637 109h3v9h-3zM642 90h1v12h-1zM641 102h3v5h-3zM645 102h1v1h-1zM645 104h1v8h-1zM644 103h3v1h-3zM649 84h1v18h-1zM649 105h1v3h-1zM648 102h3v3h-3zM653 105h1v2h-1zM652 96h3v9h-3zM656 99h1v3h-1zM655 91h3v8h-3zM660 94h1v4h-1zM660 101h1v17h-1zM659 98h3v3h-3zM664 99h1v3h-1zM663 94h3v5h-3zM667 92h1v6h-1zM666 98h3v5h-3zM671 94h1v3h-1zM671 98h1v5h-1zM670 97h3v1h-3zM674 101h3v4h-3zM677 105h3v3h-3zM682 108h1v4h-1zM681 100h3v8h-3zM686 99h1v1h-1zM686 106h1v8h-1zM685 100h3v6h-3zM689 105h1v6h-1zM688 101h3v4h-3zM693 99h1v4h-1zM692 103h3v8h-3zM697 107h1v5h-1zM696 97h3v10h-3zM700 108h1v4h-1zM699 103h3v5h-3zM703 106h3v7h-3zM707 102h3v6h-3zM711 108h1v6h-1zM710 101h3v7h-3z" fill="#000"/>
<path d="M8 159h1v10h-1zM19 160h1v3h-1zM23 160h1v2h-1zM37 158h1v2h-1zM52 159h1v2h-1zM56 154h1v4h-1zM67 147h1v14h-1zM89 151h1v3h-1zM96 152h1v4h-1zM103 153h1v12h-1zM111 145h1v9h-1zM129 141h1v9h-1zM133 124h1v8h-1zM155 134h1v9h-1zM166 168h1v6h-1zM169 136h1v20h-1zM191 139h1v8h-1zM202 139h1v5h-1zM210 138h1v1h-1zM224 149h1v3h-1zM232 150h1v3h-1zM243 174h1v6h-1zM257 192h1v1h-1zM279 168h1v30h-1zM294 154h1v3h-1zM305 161h1v9h-1zM316 164h1v5h-1zM319 160h1v1h-1zM330 172h1v1h-1zM349 146h1v4h-1zM363 141h1v5h-1zM371 157h1v6h-1zM378 153h1v5h-1zM382 160h1v8h-1zM389 156h1v6h-1zM396 148h1v15h-1zM400 148h1v5h-1zM418 149h1v12h-1zM455 126h1v7h-1zM470 125h1v3h-1zM488 135h1v3h-1zM491 133h1v3h-1zM510 124h1v4h-1zM517 122h1v3h-1zM535 131h1v2h-1zM543 127h1v3h-1zM546 127h1v3h-1zM554 119h1v7h-1zM561 118h1v3h-1zM565 115h1v2h-1zM572 113h1v3h-1zM576 113h1v6h-1zM579 115h1v4h-1zM583 121h1v1h-1zM587 118h1v1h-1zM590 117h1v2h-1zM601 124h1v7h-1zM609 121h1v1h-1zM631 113h1v8h-1zM638 110h1v7h-1zM642 103h1v3h-1zM660 99h1v1h-1zM667 99h1v3h-1zM675 102h1v2h-1zM693 104h1v6h-1zM704 107h1v5h-1z" fill="#fff"/>
<rect x="10" y="0" width="435" height="14" fill="#fff"/>
<rect x="10" y="14" width="560" height="14" fill="#fff"/>
<rect x="3" y="5" width="1" height="294" fill="#000"/>
<rect x="719" y="5" width="1" height="294" fill="#000"/>
<rect x="3" y="5" width="7" height="1" fill="#000"/>
<rect x="445" y="5" width="275" height="1" fill="#000"/>
<rect x="3" y="298" width="717" height="1" fill="#000"/>
<rect x="720" y="22" width="4" height="1" fill="#000"/>
<rect x="720" y="77" width="4" height="1" fill="#000"/>
<rect x="720" y="132" width="4" height="1" fill="#000"/>
<rect x="720" y="187" width="4" height="1" fill="#000"/>
<rect x="720" y="242" width="4" height="1" fill="#000"/>
<rect x="720" y="296" width="4" height="1" fill="#000"/>
<rect x="8" y="299" width="1" height="7" fill="#000"/>
<rect x="81" y="299" width="1" height="7" fill="#000"/>
<rect x="151" y="299" width="1" height="7" fill="#000"/>
<rect x="228" y="299" width="1" height="7" fill="#000"/>
<rect x="305" y="299" width="1" height="7" fill="#000"/>
<rect x="382" y="299" width="1" height="7" fill="#000"/>
<rect x="455" y="299" width="1" height="7" fill="#000"/>
<rect x="535" y="299" width="1" height="7" fill="#000"/>
<rect x="612" y="299" width="1" height="7" fill="#000"/>
<rect x="689" y="299" width="1" height="7" fill="#000"/>
<path d="M4 334h1v1h-1zM12 334h1v1h-1zM20 334h1v1h-1zM28 334h1v1h-1zM36 334h1v1h-1zM44 334h1v1h-1zM52 334h1v1h-1zM60 334h1v1h-1zM68 334h1v1h-1zM76 334h1v1h-1zM84 334h1v1h-1zM92 334h1v1h-1zM100 334h1v1h-1zM108 334h1v1h-1zM116 334h1v1h-1zM124 334h1v1h-1zM132 334h1v1h-1zM140 334h1v1h-1zM148 334h1v1h-1zM156 334h1v1h-1zM164 334h1v1h-1zM172 334h1v1h-1zM180 334h1v1h-1zM188 334h1v1h-1zM196 334h1v1h-1zM204 334h1v1h-1zM212 334h1v1h-1zM220 334h1v1h-1zM228 334h1v1h-1zM236 334h1v1h-1zM244 334h1v1h-1zM252 334h1v1h-1zM260 334h1v1h-1zM268 334h1v1h-1zM276 334h1v1h-1zM284 334h1v1h-1zM292 334h1v1h-1zM300 334h1v1h-1zM308 334h1v1h-1zM316 334h1v1h-1zM324 334h1v1h-1zM332 334h1v1h-1zM340 334h1v1h-1zM348 334h1v1h-1zM356 334h1v1h-1zM364 334h1v1h-1zM372 334h1v1h-1zM380 334h1v1h-1zM388 334h1v1h-1zM396 334h1v1h-1zM404 334h1v1h-1zM412 334h1v1h-1zM420 334h1v1h-1zM428 334h1v1h-1zM436 334h1v1h-1zM444 334h1v1h-1zM452 334h1v1h-1zM460 334h1v1h-1zM468 334h1v1h-1zM476 334h1v1h-1zM484 334h1v1h-1zM492 334h1v1h-1zM500 334h1v1h-1zM508 334h1v1h-1zM516 334h1v1h-1zM524 334h1v1h-1zM532 334h1v1h-1zM540 334h1v1h-1zM548 334h1v1h-1zM556 334h1v1h-1zM564 334h1v1h-1zM572 334h1v1h-1zM580 334h1v1h-1zM588 334h1v1h-1zM596 334h1v1h-1zM604 334h1v1h-1zM612 334h1v1h-1zM620 334h1v1h-1zM628 334h1v1h-1zM636 334h1v1h-1zM644 334h1v1h-1zM652 334h1v1h-1zM660 334h1v1h-1zM668 334h1v1h-1zM676 334h1v1h-1zM684 334h1v1h-1zM692 334h1v1h-1zM700 334h1v1h-1zM708 334h1v1h-1zM716 334h1v1h-1z" fill="#000"/>
<path d="M4 358h1v1h-1zM12 358h1v1h-1zM20 358h1v1h-1zM28 358h1v1h-1zM36 358h1v1h-1zM44 358h1v1h-1zM52 358h1v1h-1zM60 358h1v1h-1zM68 358h1v1h-1zM76 358h1v1h-1zM84 358h1v1h-1zM92 358h1v1h-1zM100 358h1v1h-1zM108 358h1v1h-1zM116 358h1v1h-1zM124 358h1v1h-1zM132 358h1v1h-1zM140 358h1v1h-1zM148 358h1v1h-1zM156 358h1v1h-1zM164 358h1v1h-1zM172 358h1v1h-1zM180 358h1v1h-1zM188 358h1v1h-1zM196 358h1v1h-1zM204 358h1v1h-1zM212 358h1v1h-1zM220 358h1v1h-1zM228 358h1v1h-1zM236 358h1v1h-1zM244 358h1v1h-1zM252 358h1v1h-1zM260 358h1v1h-1zM268 358h1v1h-1zM276 358h1v1h-1zM284 358h1v1h-1zM292 358h1v1h-1zM300 358h1v1h-1zM308 358h1v1h-1zM316 358h1v1h-1zM324 358h1v1h-1zM332 358h1v1h-1zM340 358h1v1h-1zM348 358h1v1h-1zM356 358h1v1h-1zM364 358h1v1h-1zM372 358h1v1h-1zM380 358h1v1h-1zM388 358h1v1h-1zM396 358h1v1h-1zM404 358h1v1h-1zM412 358h1v1h-1zM420 358h1v1h-1zM428 358h1v1h-1zM436 358h1v1h-1zM444 358h1v1h-1zM452 358h1v1h-1zM460 358h1v1h-1zM468 358h1v1h-1zM476 358h1v1h-1zM484 358h1v1h-1zM492 358h1v1h-1zM500 358h1v1h-1zM508 358h1v1h-1zM516 358h1v1h-1zM524 358h1v1h-1zM532 358h1v1h-1zM540 358h1v1h-1zM548 358h1v1h-1zM556 358h1v1h-1zM564 358h1v1h-1zM572 358h1v1h-1zM580 358h1v1h-1zM588 358h1v1h-1zM596 358h1v1h-1zM604 358h1v1h-1zM612 358h1v1h-1zM620 358h1v1h-1zM628 358h1v1h-1zM636 358h1v1h-1zM644 358h1v1h-1zM652 358h1v1h-1zM660 358h1v1h-1zM668 358h1v1h-1zM676 358h1v1h-1zM684 358h1v1h-1zM692 358h1v1h-1zM700 358h1v1h-1zM708 358h1v1h-1zM716 358h1v1h-1z" fill="#000"/>
<path d="M4 381h1v1h-1zM12 381h1v1h-1zM20 381h1v1h-1zM28 381h1v1h-1zM36 381h1v1h-1zM44 381h1v1h-1zM52 381h1v1h-1zM60 381h1v1h-1zM68 381h1v1h-1zM76 381h1v1h-1zM84 381h1v1h-1zM92 381h1v1h-1zM100 381h1v1h-1zM108 381h1v1h-1zM116 381h1v1h-1zM124 381h1v1h-1zM132 381h1v1h-1zM140 381h1v1h-1zM148 381h1v1h-1zM156 381h1v1h-1zM164 381h1v1h-1zM172 381h1v1h-1zM180 381h1v1h-1zM188 381h1v1h-1zM196 381h1v1h-1zM204 381h1v1h-1zM212 381h1v1h-1zM220 381h1v1h-1zM228 381h1v1h-1zM236 381h1v1h-1zM244 381h1v1h-1zM252 381h1v1h-1zM260 381h1v1h-1zM268 381h1v1h-1zM276 381h1v1h-1zM284 381h1v1h-1zM292 381h1v1h-1zM300 381h1v1h-1zM308 381h1v1h-1zM316 381h1v1h-1zM324 381h1v1h-1zM332 381h1v1h-1zM340 381h1v1h-1zM348 381h1v1h-1zM356 381h1v1h-1zM364 381h1v1h-1zM372 381h1v1h-1zM380 381h1v1h-1zM388 381h1v1h-1zM396 381h1v1h-1zM404 381h1v1h-1zM412 381h1v1h-1zM420 381h1v1h-1zM428 381h1v1h-1zM436 381h1v1h-1zM444 381h1v1h-1zM452 381h1v1h-1zM460 381h1v1h-1zM468 381h1v1h-1zM476 381h1v1h-1zM484 381h1v1h-1zM492 381h1v1h-1zM500 381h1v1h-1zM508 381h1v1h-1zM516 381h1v1h-1zM524 381h1v1h-1zM532 381h1v1h-1zM540 381h1v1h-1zM548 381h1v1h-1zM556 381h1v1h-1zM564 381h1v1h-1zM572 381h1v1h-1zM580 381h1v1h-1zM588 381h1v1h-1zM596 381h1v1h-1zM604 381h1v1h-1zM612 381h1v1h-1zM620 381h1v1h-1zM628 381h1v1h-1zM636 381h1v1h-1zM644 381h1v1h-1zM652 381h1v1h-1zM660 381h1v1h-1zM668 381h1v1h-1zM676 381h1v1h-1zM684 381h1v1h-1zM692 381h1v1h-1zM700 381h1v1h-1zM708 381h1v1h-1zM716 381h1v1h-1z" fill="#000"/>
<path d="M4 404h1v1h-1zM12 404h1v1h-1zM20 404h1v1h-1zM28 404h1v1h-1zM36 404h1v1h-1zM44 404h1v1h-1zM52 404h1v1h-1zM60 404h1v1h-1zM68 404h1v1h-1zM76 404h1v1h-1zM84 404h1v1h-1zM92 404h1v1h-1zM100 404h1v1h-1zM108 404h1v1h-1zM116 404h1v1h-1zM124 404h1v1h-1zM132 404h1v1h-1zM140 404h1v1h-1zM148 404h1v1h-1zM156 404h1v1h-1zM164 404h1v1h-1zM172 404h1v1h-1zM180 404h1v1h-1zM188 404h1v1h-1zM196 404h1v1h-1zM204 404h1v1h-1zM212 404h1v1h-1zM220 404h1v1h-1zM228 404h1v1h-1zM236 404h1v1h-1zM244 404h1v1h-1zM252 404h1v1h-1zM260 404h1v1h-1zM268 404h1v1h-1zM276 404h1v1h-1zM284 404h1v1h-1zM292 404h1v1h-1zM300 404h1v1h-1zM308 404h1v1h-1zM316 404h1v1h-1zM324 404h1v1h-1zM332 404h1v1h-1zM340 404h1v1h-1zM348 404h1v1h-1zM356 404h1v1h-1zM364 404h1v1h-1zM372 404h1v1h-1zM380 404h1v1h-1zM388 404h1v1h-1zM396 404h1v1h-1zM404 404h1v1h-1zM412 404h1v1h-1zM420 404h1v1h-1zM428 404h1v1h-1zM436 404h1v1h-1zM444 404h1v1h-1zM452 404h1v1h-1zM460 404h1v1h-1zM468 404h1v1h-1zM476 404h1v1h-1zM484 404h1v1h-1zM492 404h1v1h-1zM500 404h1v1h-1zM508 404h1v1h-1zM516 404h1v1h-1zM524 404h1v1h-1zM532 404h1v1h-1zM540 404h1v1h-1zM548 404h1v1h-1zM556 404h1v1h-1zM564 404h1v1h-1zM572 404h1v1h-1zM580 404h1v1h-1zM588 404h1v1h-1zM596 404h1v1h-1zM604 404h1v1h-1zM612 404h1v1h-1zM620 404h1v1h-1zM628 404h1v1h-1zM636 404h1v1h-1zM644 404h1v1h-1zM652 404h1v1h-1zM660 404h1v1h-1zM668 404h1v1h-1zM676 404h1v1h-1zM684 404h1v1h-1zM692 404h1v1h-1zM700 404h1v1h-1zM708 404h1v1h-1zM716 404h1v1h-1z" fill="#000"/>
<path d="M4 372h3v3h-3zM7 374h3v3h-3zM11 377h3v3h-3zM14 378h3v3h-3zM18 379h3v3h-3zM22 380h3v3h-3zM25 381h3v3h-3zM29 382h3v3h-3zM33 384h3v3h-3zM36 384h3v3h-3zM40 384h3v3h-3zM44 384h3v3h-3zM47 384h3v3h-3zM51 383h3v3h-3zM55 382h3v3h-3zM58 381h3v3h-3zM62 379h3v3h-3zM66 376h3v3h-3zM69 372h3v3h-3zM73 369h3v3h-3zM77 367h3v3h-3zM80 364h3v3h-3zM84 362h3v3h-3zM88 360h3v3h-3zM91 357h3v3h-3zM95 356h3v3h-3zM99 354h3v3h-3zM102 353h3v3h-3zM106 351h3v3h-3zM110 350h3v3h-3zM113 349h3v3h-3zM117 348h3v3h-3zM121 346h3v3h-3zM124 344h3v3h-3zM128 341h3v3h-3zM132 338h3v3h-3zM135 335h3v3h-3zM139 334h3v3h-3zM143 333h3v3h-3zM146 333h3v3h-3zM150 332h3v3h-3zM154 333h3v3h-3zM157 333h3v3h-3zM161 334h3v3h-3zM165 335h3v3h-3zM168 337h3v3h-3zM172 338h3v3h-3zM176 339h3v3h-3zM179 340h3v3h-3zM183 340h3v3h-3zM187 341h3v3h-3zM190 341h3v3h-3zM194 343h3v3h-3zM198 344h3v3h-3zM201 346h3v3h-3zM205 349h3v3h-3zM209 351h3v3h-3zM212 352h3v3h-3zM216 353h3v3h-3zM220 355h3v3h-3zM223 358h3v3h-3zM227 360h3v3h-3zM231 362h3v3h-3zM234 363h3v3h-3zM238 365h3v3h-3zM242 366h3v3h-3zM245 369h3v3h-3zM249 372h3v3h-3zM252 376h3v3h-3zM256 380h3v3h-3zM260 385h3v3h-3zM263 387h3v3h-3zM267 389h3v3h-3zM271 390h3v3h-3zM274 394h3v3h-3zM278 397h3v3h-3zM282 399h3v3h-3zM285 399h3v3h-3zM289 399h3v3h-3zM293 397h3v3h-3zM296 394h3v3h-3zM300 392h3v3h-3zM304 389h3v3h-3zM307 386h3v3h-3zM311 383h3v3h-3zM315 380h3v3h-3zM318 376h3v3h-3zM322 372h3v3h-3zM326 369h3v3h-3zM329 365h3v3h-3zM333 362h3v3h-3zM337 359h3v3h-3zM340 356h3v3h-3zM344 353h3v3h-3zM348 348h3v3h-3zM351 344h3v3h-3zM355 340h3v3h-3zM359 339h3v3h-3zM362 339h3v3h-3zM366 338h3v3h-3zM370 340h3v3h-3zM373 341h3v3h-3zM377 343h3v3h-3zM381 344h3v3h-3zM384 344h3v3h-3zM388 344h3v3h-3zM392 344h3v3h-3zM395 342h3v3h-3zM399 340h3v3h-3zM403 339h3v3h-3zM406 337h3v3h-3zM410 337h3v3h-3zM414 338h3v3h-3zM417 340h3v3h-3zM421 341h3v3h-3zM425 343h3v3h-3zM428 343h3v3h-3zM432 343h3v3h-3zM436 342h3v3h-3zM439 342h3v3h-3zM443 341h3v3h-3zM447 340h3v3h-3zM450 339h3v3h-3zM454 338h3v3h-3zM458 336h3v3h-3zM461 335h3v3h-3zM465 334h3v3h-3zM469 333h3v3h-3zM472 332h3v3h-3zM476 331h3v3h-3zM480 332h3v3h-3zM483 332h3v3h-3zM487 331h3v3h-3zM490 331h3v3h-3zM494 331h3v3h-3zM498 330h3v3h-3zM501 330h3v3h-3zM505 330h3v3h-3zM509 331h3v3h-3zM512 331h3v3h-3zM516 332h3v3h-3zM520 332h3v3h-3zM523 333h3v3h-3zM527 334h3v3h-3zM531 336h3v3h-3zM534 338h3v3h-3zM538 340h3v3h-3zM542 341h3v3h-3zM545 343h3v3h-3zM549 345h3v3h-3zM553 344h3v3h-3zM556 344h3v3h-3zM560 343h3v3h-3zM564 342h3v3h-3zM567 341h3v3h-3zM571 340h3v3h-3zM575 341h3v3h-3zM578 341h3v3h-3zM582 342h3v3h-3zM586 342h3v3h-3zM589 342h3v3h-3zM593 343h3v3h-3zM597 343h3v3h-3zM600 343h3v3h-3zM604 344h3v3h-3zM608 344h3v3h-3zM611 344h3v3h-3zM615 345h3v3h-3zM619 346h3v3h-3zM622 347h3v3h-3zM626 347h3v3h-3zM630 349h3v3h-3zM633 350h3v3h-3zM637 350h3v3h-3zM641 349h3v3h-3zM644 349h3v3h-3zM648 348h3v3h-3zM652 347h3v3h-3zM655 346h3v3h-3zM659 346h3v3h-3zM663 345h3v3h-3zM666 344h3v3h-3zM670 343h3v3h-3zM674 341h3v3h-3zM677 340h3v3h-3zM681 340h3v3h-3zM685 339h3v3h-3zM688 339h3v3h-3zM692 338h3v3h-3zM696 338h3v3h-3zM699 338h3v3h-3zM703 339h3v3h-3zM707 340h3v3h-3zM710 341h3v3h-3z" fill="#0000ff"/>
<polyline points="5.5,373.5 8.5,375.5 12.5,378.5 15.5,379.5 19.5,380.5 23.5,381.5 26.5,382.5 30.5,383.5 34.5,385.5 37.5,385.5 41.5,385.5 45.5,385.5 48.5,385.5 52.5,384.5 56.5,383.5 59.5,382.5 63.5,380.5 67.5,377.5 70.5,373.5 74.5,370.5 78.5,368.5 81.5,365.5 85.5,363.5 89.5,361.5 92.5,358.5 96.5,357.5 100.5,355.5 103.5,354.5 107.5,352.5 111.5,351.5 114.5,350.5 118.5,349.5 122.5,347.5 125.5,345.5 129.5,342.5 133.5,339.5 136.5,336.5 140.5,335.5 144.5,334.5 147.5,334.5 151.5,333.5 155.5,334.5 158.5,334.5 162.5,335.5 166.5,336.5 169.5,338.5 173.5,339.5 177.5,340.5 180.5,341.5 184.5,341.5 188.5,342.5 191.5,342.5 195.5,344.5 199.5,345.5 202.5,347.5 206.5,350.5 210.5,352.5 213.5,353.5 217.5,354.5 221.5,356.5 224.5,359.5 228.5,361.5 232.5,363.5 235.5,364.5 239.5,366.5 243.5,367.5 246.5,370.5 250.5,373.5 253.5,377.5 257.5,381.5 261.5,386.5 264.5,388.5 268.5,390.5 272.5,391.5 275.5,395.5 279.5,398.5 283.5,400.5 286.5,400.5 290.5,400.5 294.5,398.5 297.5,395.5 301.5,393.5 305.5,390.5 308.5,387.5 312.5,384.5 316.5,381.5 319.5,377.5 323.5,373.5 327.5,370.5 330.5,366.5 334.5,363.5 338.5,360.5 341.5,357.5 345.5,354.5 349.5,349.5 352.5,345.5 356.5,341.5 360.5,340.5 363.5,340.5 367.5,339.5 371.5,341.5 374.5,342.5 378.5,344.5 382.5,345.5 385.5,345.5 389.5,345.5 393.5,345.5 396.5,343.5 400.5,341.5 404.5,340.5 407.5,338.5 411.5,338.5 415.5,339.5 418.5,341.5 422.5,342.5 426.5,344.5 429.5,344.5 433.5,344.5 437.5,343.5 440.5,343.5 444.5,342.5 448.5,341.5 451.5,340.5 455.5,339.5 459.5,337.5 462.5,336.5 466.5,335.5 470.5,334.5 473.5,333.5 477.5,332.5 481.5,333.5 484.5,333.5 488.5,332.5 491.5,332.5 495.5,332.5 499.5,331.5 502.5,331.5 506.5,331.5 510.5,332.5 513.5,332.5 517.5,333.5 521.5,333.5 524.5,334.5 528.5,335.5 532.5,337.5 535.5,339.5 539.5,341.5 543.5,342.5 546.5,344.5 550.5,346.5 554.5,345.5 557.5,345.5 561.5,344.5 565.5,343.5 568.5,342.5 572.5,341.5 576.5,342.5 579.5,342.5 583.5,343.5 587.5,343.5 590.5,343.5 594.5,344.5 598.5,344.5 601.5,344.5 605.5,345.5 609.5,345.5 612.5,345.5 616.5,346.5 620.5,347.5 623.5,348.5 627.5,348.5 631.5,350.5 634.5,351.5 638.5,351.5 642.5,350.5 645.5,350.5 649.5,349.5 653.5,348.5 656.5,347.5 660.5,347.5 664.5,346.5 667.5,345.5 671.5,344.5 675.5,342.5 678.5,341.5 682.5,341.5 686.5,340.5 689.5,340.5 693.5,339.5 697.5,339.5 700.5,339.5 704.5,340.5 708.5,341.5 711.5,342.5" fill="none" stroke="#0000ff" stroke-width="1"/>
<polyline points="5.5,382 8.5,383.9 12.5,385.5 16.5,385.75 23.5,387 27.5,388.5 30.5,388.9 34.5,390.5 37.5,388.25 41.5,384.5 48.5,384.25 52.5,378.9 54.5,378.5 57.5,379.5 60.5,377 63.5,370.75 67.5,363.25 71.5,357.6 74.5,355.5 78.5,355.5 81.5,354.75 85.5,352 89.5,350.5 92.5,348.9 96.5,348.25 100.5,347 104.5,347.6 108,348.9 114.5,348.9 117.5,345.75 123,338.9 126.1,337 128,332 129.5,328 131.5,324 136.5,324 138.5,328 144.5,333.9 148,333 151.5,331.75 155.5,331.4 158.5,333.9 161.5,335.75 164.5,340.75 167.5,345 170.5,344.5 178,343.9 181.1,342.6 184.5,341.75 189.25,343.9 191.5,348.25 195.5,350 203,359.5 206.5,362.6 210.5,360 218,360 221.5,367 225.5,368.9 233,371.4 236.5,371.4 240.5,369.25 244.5,375.75 247.5,385.75 251.1,393.25 254.5,398.25 258.5,400.5 261.5,399.5 265.5,400.5 269.5,397.4 273,399.5 274.5,407 276.1,411 279.9,410 283.5,410.5 286.1,405 290.5,398.25 294.25,390.75 298,383.25 301.5,380.5 305.5,379.5 309.25,374.5 313,371.4 316.5,366.4 320.5,358.25 324.25,356.5 328,353.9 331.5,348.9 334.5,347.6 338.5,345.75 342.5,343.9 346.1,341.75 348.5,334.5 349.5,328 351.5,323 354.5,323 356.5,328 360.5,335 364.25,338.25 368,340.75 371.5,345 375.5,348.9 379.25,347.6 383,347 386.1,348.25 389.5,345 393.5,344.5 395.5,337 398,333.9 401.1,332.6 404.5,332.25 408.5,333.9 410.5,337.6 414.25,341.4 418,344.5 421.1,346.4 423,350 426.5,352.6 429.5,347.6 432.5,342 436.1,341.4 440.5,340.75 445.5,338.25 449.25,336.4 453,335 456.5,332.25 461.5,330.75 469.25,329.25 476.1,329.25 480.5,333.9 484.25,332.25 491.5,331.4 496.1,329.5 499.5,329.5 504.25,330.75 508,331.75 514.25,333.9 518,335.5 521.5,337.6 525.5,339.5 529.25,342.6 533,345.75 536.1,348.25 540.5,348.5 544.25,350 548,352 551.5,351 554.25,345.75 558,344.5 561.5,342.25 565.5,341.4 569.25,339.75 573,339.25 576.1,341 580.25,341.75 584.25,343.9 588,345 591.5,346 595.5,345.5 599.25,345 603,345.75 606.5,346.4 610.5,347.6 614.25,348.9 618,349.5 621.5,350 624.5,350 628,355 630.5,357 634.25,353.25 638.5,352 642.5,350.5 646.1,349.5 649.5,348.5 653.5,347.6 656.1,343.9 660.5,341.4 664.25,340.75 668,340 671.5,338.9 675.5,337.25 679.25,337.25 682.5,338.9 686.1,338 689.5,337.25 693,336.4 696.1,338 700.5,340.5 704.25,343 708,344.75 711.5,346.4" fill="none" stroke="#0000ff" stroke-width="1"/>
<path d="M4 374h3v3h-3zM7 376h3v3h-3zM11 377h3v3h-3zM14 377h3v3h-3zM18 376h3v3h-3zM22 375h3v3h-3zM25 374h3v3h-3zM29 372h3v3h-3zM33 371h3v3h-3zM36 369h3v3h-3zM40 367h3v3h-3zM44 365h3v3h-3zM47 364h3v3h-3zM51 363h3v3h-3zM55 362h3v3h-3zM58 361h3v3h-3zM62 361h3v3h-3zM66 360h3v3h-3zM69 358h3v3h-3zM73 357h3v3h-3zM77 356h3v3h-3zM80 356h3v3h-3zM84 355h3v3h-3zM88 353h3v3h-3zM91 352h3v3h-3zM95 350h3v3h-3zM99 349h3v3h-3zM102 349h3v3h-3zM106 350h3v3h-3zM110 351h3v3h-3zM113 351h3v3h-3zM117 350h3v3h-3zM121 349h3v3h-3zM124 348h3v3h-3zM128 346h3v3h-3zM132 344h3v3h-3zM135 343h3v3h-3zM139 342h3v3h-3zM143 341h3v3h-3zM146 340h3v3h-3zM150 339h3v3h-3zM154 340h3v3h-3zM157 340h3v3h-3zM161 342h3v3h-3zM165 346h3v3h-3zM168 349h3v3h-3zM172 351h3v3h-3zM176 353h3v3h-3zM179 355h3v3h-3zM183 356h3v3h-3zM187 357h3v3h-3zM190 358h3v3h-3zM194 359h3v3h-3zM198 358h3v3h-3zM201 357h3v3h-3zM205 357h3v3h-3zM209 356h3v3h-3zM212 355h3v3h-3zM216 355h3v3h-3zM220 356h3v3h-3zM223 357h3v3h-3zM227 358h3v3h-3zM231 359h3v3h-3zM234 361h3v3h-3zM238 364h3v3h-3zM242 366h3v3h-3zM245 370h3v3h-3zM249 374h3v3h-3zM252 378h3v3h-3zM256 382h3v3h-3zM260 384h3v3h-3zM263 385h3v3h-3zM267 386h3v3h-3zM271 386h3v3h-3zM274 387h3v3h-3zM278 387h3v3h-3zM282 386h3v3h-3zM285 381h3v3h-3zM289 377h3v3h-3zM293 372h3v3h-3zM296 367h3v3h-3zM300 363h3v3h-3zM304 360h3v3h-3zM307 357h3v3h-3zM311 352h3v3h-3zM315 349h3v3h-3zM318 347h3v3h-3zM322 347h3v3h-3zM326 348h3v3h-3zM329 350h3v3h-3zM333 351h3v3h-3zM337 352h3v3h-3zM340 353h3v3h-3zM344 353h3v3h-3zM348 352h3v3h-3zM351 351h3v3h-3zM355 350h3v3h-3zM359 349h3v3h-3zM362 347h3v3h-3zM366 346h3v3h-3zM370 345h3v3h-3zM373 346h3v3h-3zM377 347h3v3h-3zM381 348h3v3h-3zM384 349h3v3h-3zM388 350h3v3h-3zM392 351h3v3h-3zM395 350h3v3h-3zM399 350h3v3h-3zM403 350h3v3h-3zM406 349h3v3h-3zM410 348h3v3h-3zM414 348h3v3h-3zM417 348h3v3h-3zM421 348h3v3h-3zM425 349h3v3h-3zM428 349h3v3h-3zM432 349h3v3h-3zM436 349h3v3h-3zM439 349h3v3h-3zM443 349h3v3h-3zM447 349h3v3h-3zM450 348h3v3h-3zM454 346h3v3h-3zM458 345h3v3h-3zM461 343h3v3h-3zM465 341h3v3h-3zM469 341h3v3h-3zM472 340h3v3h-3zM476 339h3v3h-3zM480 339h3v3h-3zM483 339h3v3h-3zM487 340h3v3h-3zM490 341h3v3h-3zM494 343h3v3h-3zM498 344h3v3h-3zM501 345h3v3h-3zM505 346h3v3h-3zM509 347h3v3h-3zM512 348h3v3h-3zM516 349h3v3h-3zM520 350h3v3h-3zM523 350h3v3h-3zM527 350h3v3h-3zM531 350h3v3h-3zM534 351h3v3h-3zM538 352h3v3h-3zM542 352h3v3h-3zM545 352h3v3h-3zM549 353h3v3h-3zM553 352h3v3h-3zM556 351h3v3h-3zM560 350h3v3h-3zM564 350h3v3h-3zM567 349h3v3h-3zM571 347h3v3h-3zM575 347h3v3h-3zM578 346h3v3h-3zM582 345h3v3h-3zM586 346h3v3h-3zM589 347h3v3h-3zM593 348h3v3h-3zM597 349h3v3h-3zM600 350h3v3h-3zM604 352h3v3h-3zM608 353h3v3h-3zM611 354h3v3h-3zM615 356h3v3h-3zM619 357h3v3h-3zM622 357h3v3h-3zM626 357h3v3h-3zM630 357h3v3h-3zM633 357h3v3h-3zM637 357h3v3h-3zM641 354h3v3h-3zM644 353h3v3h-3zM648 351h3v3h-3zM652 349h3v3h-3zM655 347h3v3h-3zM659 346h3v3h-3zM663 344h3v3h-3zM666 343h3v3h-3zM670 343h3v3h-3zM674 342h3v3h-3zM677 343h3v3h-3zM681 344h3v3h-3zM685 345h3v3h-3zM688 346h3v3h-3zM692 348h3v3h-3zM696 349h3v3h-3zM699 351h3v3h-3zM703 352h3v3h-3zM707 354h3v3h-3zM710 355h3v3h-3z" fill="#808000"/>
<polyline points="5.5,375.5 8.5,377.5 12.5,378.5 15.5,378.5 19.5,377.5 23.5,376.5 26.5,375.5 30.5,373.5 34.5,372.5 37.5,370.5 41.5,368.5 45.5,366.5 48.5,365.5 52.5,364.5 56.5,363.5 59.5,362.5 63.5,362.5 67.5,361.5 70.5,359.5 74.5,358.5 78.5,357.5 81.5,357.5 85.5,356.5 89.5,354.5 92.5,353.5 96.5,351.5 100.5,350.5 103.5,350.5 107.5,351.5 111.5,352.5 114.5,352.5 118.5,351.5 122.5,350.5 125.5,349.5 129.5,347.5 133.5,345.5 136.5,344.5 140.5,343.5 144.5,342.5 147.5,341.5 151.5,340.5 155.5,341.5 158.5,341.5 162.5,343.5 166.5,347.5 169.5,350.5 173.5,352.5 177.5,354.5 180.5,356.5 184.5,357.5 188.5,358.5 191.5,359.5 195.5,360.5 199.5,359.5 202.5,358.5 206.5,358.5 210.5,357.5 213.5,356.5 217.5,356.5 221.5,357.5 224.5,358.5 228.5,359.5 232.5,360.5 235.5,362.5 239.5,365.5 243.5,367.5 246.5,371.5 250.5,375.5 253.5,379.5 257.5,383.5 261.5,385.5 264.5,386.5 268.5,387.5 272.5,387.5 275.5,388.5 279.5,388.5 283.5,387.5 286.5,382.5 290.5,378.5 294.5,373.5 297.5,368.5 301.5,364.5 305.5,361.5 308.5,358.5 312.5,353.5 316.5,350.5 319.5,348.5 323.5,348.5 327.5,349.5 330.5,351.5 334.5,352.5 338.5,353.5 341.5,354.5 345.5,354.5 349.5,353.5 352.5,352.5 356.5,351.5 360.5,350.5 363.5,348.5 367.5,347.5 371.5,346.5 374.5,347.5 378.5,348.5 382.5,349.5 385.5,350.5 389.5,351.5 393.5,352.5 396.5,351.5 400.5,351.5 404.5,351.5 407.5,350.5 411.5,349.5 415.5,349.5 418.5,349.5 422.5,349.5 426.5,350.5 429.5,350.5 433.5,350.5 437.5,350.5 440.5,350.5 444.5,350.5 448.5,350.5 451.5,349.5 455.5,347.5 459.5,346.5 462.5,344.5 466.5,342.5 470.5,342.5 473.5,341.5 477.5,340.5 481.5,340.5 484.5,340.5 488.5,341.5 491.5,342.5 495.5,344.5 499.5,345.5 502.5,346.5 506.5,347.5 510.5,348.5 513.5,349.5 517.5,350.5 521.5,351.5 524.5,351.5 528.5,351.5 532.5,351.5 535.5,352.5 539.5,353.5 543.5,353.5 546.5,353.5 550.5,354.5 554.5,353.5 557.5,352.5 561.5,351.5 565.5,351.5 568.5,350.5 572.5,348.5 576.5,348.5 579.5,347.5 583.5,346.5 587.5,347.5 590.5,348.5 594.5,349.5 598.5,350.5 601.5,351.5 605.5,353.5 609.5,354.5 612.5,355.5 616.5,357.5 620.5,358.5 623.5,358.5 627.5,358.5 631.5,358.5 634.5,358.5 638.5,358.5 642.5,355.5 645.5,354.5 649.5,352.5 653.5,350.5 656.5,348.5 660.5,347.5 664.5,345.5 667.5,344.5 671.5,344.5 675.5,343.5 678.5,344.5 682.5,345.5 686.5,346.5 689.5,347.5 693.5,349.5 697.5,350.5 700.5,352.5 704.5,353.5 708.5,355.5 711.5,356.5" fill="none" stroke="#808000" stroke-width="1"/>
<polyline points="5.5,382 8.5,385 12.5,383.25 14.5,380 17.5,377 23.5,373.9 25.5,370.75 27.5,368.25 30.5,365.5 34.5,365 37.5,362 41.5,359.25 48.5,359.5 52.5,358.5 56.5,360.75 60.5,360 63.5,358.9 67.5,354.75 70.5,351.75 74.5,351.6 78.5,354.25 81.5,354.75 85.5,349.75 89.5,350 93,345.5 100.5,345.5 102.5,347.6 105.5,349 110.5,355 113,354.75 116.1,347 119.5,345.75 122.5,348.25 126.1,345 128,340.75 130.5,337.6 133.5,336.4 137.5,338 141.1,336.75 144.5,336.4 148.5,336.75 151.5,338.9 155.5,342.6 158.5,344.5 161.5,347.6 164.5,354.5 166.5,364.5 169.5,366.4 173,363.5 178,363.25 184.5,364.25 188.5,362.6 195.5,362.6 199.5,355 203,352.6 206.5,354 210.5,354.75 218,355.75 221.5,360.75 225.5,363.9 233,365.5 236.5,371.4 240.5,375.75 243.5,378.9 247.5,390 251.1,396.4 254.25,399.25 258,396.75 261.5,393.5 265.5,391.4 269.25,390.5 273,391.4 276.1,394.5 279.9,389.5 283,382 286.1,369.5 288,360.75 291.1,354 294.25,350 298,346.4 301.5,345 306.1,346.4 309.25,344.5 313,333.9 316.5,335 320.5,337.6 322.5,347 324.25,349.5 328,355 331.5,357.6 334.5,358.5 338.5,357.6 342.5,355 346.1,353.25 349.5,351.4 353,349.5 356.5,348.9 360.5,344.5 363.5,341.4 366.5,341.4 371.5,345 375.5,350 379.25,351.4 383,353.25 386.1,355 389.5,357.6 393.5,354.75 397.5,351.4 401.1,350.75 404.5,348.9 406.5,345.75 409.5,345.5 413.5,347.6 418,348.9 423,350.75 426.5,353.25 429.5,351.4 434.25,350.75 440.5,350.75 445.5,350.5 449.25,347 451.5,343.9 454.25,342.6 457.5,341.4 459.5,337.6 464.25,336 468,337 471.5,338.25 475.5,337.6 480.5,339.5 485.5,340.75 489.25,344.5 492.5,348.25 496.1,350.5 499.5,352.25 506.5,352.6 510.5,353.9 514.25,354.75 518,353.25 523,352.6 528,351 533,352 536.5,353.9 540.5,354.75 544.25,356.4 548,356.4 551.5,354.75 554.25,350.5 558,348.9 561.5,348.25 565.5,347 569.25,344.5 573,343.5 576.5,344.5 580.5,344.25 584.25,347 588,349.5 591.1,353.9 594.5,354.75 598.5,354.75 602,357.6 606.1,359.5 609.5,359.5 613,361.4 616.5,363.9 620.5,362.6 624.25,361 628,358.25 631.5,357 635.5,355 640.5,351.4 646.1,347.6 649.5,344.5 653.5,341.4 657.5,339.25 661.1,340.5 664.5,340 668.5,339.25 671.5,340 675.5,343.5 679.25,345.75 683,348.25 686.5,351.4 690.5,353.5 694.25,355 698,356.4 701.5,358.9 705.5,361.75 708.5,362.25 711.5,362.6" fill="none" stroke="#808000" stroke-width="1"/>
<path d="M106 351h3v6h-3zM103 357h9v1h-9zM104 358h7v2h-7zM105 360h5v2h-5zM106 362h3v2h-3zM107 364h1v2h-1zM154 351h3v6h-3zM151 357h9v1h-9zM152 358h7v2h-7zM153 360h5v2h-5zM154 362h3v2h-3zM155 364h1v2h-1zM157 351h3v6h-3zM154 357h9v1h-9zM155 358h7v2h-7zM156 360h5v2h-5zM157 362h3v2h-3zM158 364h1v2h-1zM220 351h3v6h-3zM217 357h9v1h-9zM218 358h7v2h-7zM219 360h5v2h-5zM220 362h3v2h-3zM221 364h1v2h-1zM322 351h3v6h-3zM319 357h9v1h-9zM320 358h7v2h-7zM321 360h5v2h-5zM322 362h3v2h-3zM323 364h1v2h-1zM366 351h3v6h-3zM363 357h9v1h-9zM364 358h7v2h-7zM365 360h5v2h-5zM366 362h3v2h-3zM367 364h1v2h-1zM373 351h3v6h-3zM370 357h9v1h-9zM371 358h7v2h-7zM372 360h5v2h-5zM373 362h3v2h-3zM374 364h1v2h-1zM414 351h3v6h-3zM411 357h9v1h-9zM412 358h7v2h-7zM413 360h5v2h-5zM414 362h3v2h-3zM415 364h1v2h-1zM421 351h3v6h-3zM418 357h9v1h-9zM419 358h7v2h-7zM420 360h5v2h-5zM421 362h3v2h-3zM422 364h1v2h-1zM443 351h3v6h-3zM440 357h9v1h-9zM441 358h7v2h-7zM442 360h5v2h-5zM443 362h3v2h-3zM444 364h1v2h-1zM480 351h3v6h-3zM477 357h9v1h-9zM478 358h7v2h-7zM479 360h5v2h-5zM480 362h3v2h-3zM481 364h1v2h-1zM483 351h3v6h-3zM480 357h9v1h-9zM481 358h7v2h-7zM482 360h5v2h-5zM483 362h3v2h-3zM484 364h1v2h-1zM505 351h3v6h-3zM502 357h9v1h-9zM503 358h7v2h-7zM504 360h5v2h-5zM505 362h3v2h-3zM506 364h1v2h-1zM582 351h3v6h-3zM579 357h9v1h-9zM580 358h7v2h-7zM581 360h5v2h-5zM582 362h3v2h-3zM583 364h1v2h-1zM586 351h3v6h-3zM583 357h9v1h-9zM584 358h7v2h-7zM585 360h5v2h-5zM586 362h3v2h-3zM587 364h1v2h-1zM611 351h3v6h-3zM608 357h9v1h-9zM609 358h7v2h-7zM610 360h5v2h-5zM611 362h3v2h-3zM612 364h1v2h-1zM677 351h3v6h-3zM674 357h9v1h-9zM675 358h7v2h-7zM676 360h5v2h-5zM677 362h3v2h-3zM678 364h1v2h-1zM699 351h3v6h-3zM696 357h9v1h-9zM697 358h7v2h-7zM698 360h5v2h-5zM699 362h3v2h-3zM700 364h1v2h-1z" fill="#ff0000"/>
<path d="M15 350h1v2h-1zM14 352h3v2h-3zM13 354h5v2h-5zM12 356h7v2h-7zM11 358h9v1h-9zM14 359h3v6h-3zM45 350h1v2h-1zM44 352h3v2h-3zM43 354h5v2h-5zM42 356h7v2h-7zM41 358h9v1h-9zM44 359h3v6h-3zM199 350h1v2h-1zM198 352h3v2h-3zM197 354h5v2h-5zM196 356h7v2h-7zM195 358h9v1h-9zM198 359h3v6h-3zM272 350h1v2h-1zM271 352h3v2h-3zM270 354h5v2h-5zM269 356h7v2h-7zM268 358h9v1h-9zM271 359h3v6h-3zM279 350h1v2h-1zM278 352h3v2h-3zM277 354h5v2h-5zM276 356h7v2h-7zM275 358h9v1h-9zM278 359h3v6h-3zM290 350h1v2h-1zM289 352h3v2h-3zM288 354h5v2h-5zM287 356h7v2h-7zM286 358h9v1h-9zM289 359h3v6h-3zM631 350h1v2h-1zM630 352h3v2h-3zM629 354h5v2h-5zM628 356h7v2h-7zM627 358h9v1h-9zM630 359h3v6h-3z" fill="#009600"/>
<rect x="10" y="314" width="417" height="14" fill="#fff"/>
<rect x="3" y="319" width="1" height="95" fill="#000"/>
<rect x="719" y="319" width="1" height="95" fill="#000"/>
<rect x="3" y="319" width="7" height="1" fill="#000"/>
<rect x="427" y="319" width="293" height="1" fill="#000"/>
<rect x="3" y="413" width="717" height="1" fill="#000"/>
<rect x="720" y="334" width="4" height="1" fill="#000"/>
<rect x="720" y="358" width="4" height="1" fill="#000"/>
<rect x="720" y="381" width="4" height="1" fill="#000"/>
<rect x="720" y="404" width="4" height="1" fill="#000"/>
<path d="M4 437h1v1h-1zM12 437h1v1h-1zM20 437h1v1h-1zM28 437h1v1h-1zM36 437h1v1h-1zM44 437h1v1h-1zM52 437h1v1h-1zM60 437h1v1h-1zM68 437h1v1h-1zM76 437h1v1h-1zM84 437h1v1h-1zM92 437h1v1h-1zM100 437h1v1h-1zM108 437h1v1h-1zM116 437h1v1h-1zM124 437h1v1h-1zM132 437h1v1h-1zM140 437h1v1h-1zM148 437h1v1h-1zM156 437h1v1h-1zM164 437h1v1h-1zM172 437h1v1h-1zM180 437h1v1h-1zM188 437h1v1h-1zM196 437h1v1h-1zM204 437h1v1h-1zM212 437h1v1h-1zM220 437h1v1h-1zM228 437h1v1h-1zM236 437h1v1h-1zM244 437h1v1h-1zM252 437h1v1h-1zM260 437h1v1h-1zM268 437h1v1h-1zM276 437h1v1h-1zM284 437h1v1h-1zM292 437h1v1h-1zM300 437h1v1h-1zM308 437h1v1h-1zM316 437h1v1h-1zM324 437h1v1h-1zM332 437h1v1h-1zM340 437h1v1h-1zM348 437h1v1h-1zM356 437h1v1h-1zM364 437h1v1h-1zM372 437h1v1h-1zM380 437h1v1h-1zM388 437h1v1h-1zM396 437h1v1h-1zM404 437h1v1h-1zM412 437h1v1h-1zM420 437h1v1h-1zM428 437h1v1h-1zM436 437h1v1h-1zM444 437h1v1h-1zM452 437h1v1h-1zM460 437h1v1h-1zM468 437h1v1h-1zM476 437h1v1h-1zM484 437h1v1h-1zM492 437h1v1h-1zM500 437h1v1h-1zM508 437h1v1h-1zM516 437h1v1h-1zM524 437h1v1h-1zM532 437h1v1h-1zM540 437h1v1h-1zM548 437h1v1h-1zM556 437h1v1h-1zM564 437h1v1h-1zM572 437h1v1h-1zM580 437h1v1h-1zM588 437h1v1h-1zM596 437h1v1h-1zM604 437h1v1h-1zM612 437h1v1h-1zM620 437h1v1h-1zM628 437h1v1h-1zM636 437h1v1h-1zM644 437h1v1h-1zM652 437h1v1h-1zM660 437h1v1h-1zM668 437h1v1h-1zM676 437h1v1h-1zM684 437h1v1h-1zM692 437h1v1h-1zM700 437h1v1h-1zM708 437h1v1h-1zM716 437h1v1h-1z" fill="#000"/>
<path d="M4 479h1v1h-1zM12 479h1v1h-1zM20 479h1v1h-1zM28 479h1v1h-1zM36 479h1v1h-1zM44 479h1v1h-1zM52 479h1v1h-1zM60 479h1v1h-1zM68 479h1v1h-1zM76 479h1v1h-1zM84 479h1v1h-1zM92 479h1v1h-1zM100 479h1v1h-1zM108 479h1v1h-1zM116 479h1v1h-1zM124 479h1v1h-1zM132 479h1v1h-1zM140 479h1v1h-1zM148 479h1v1h-1zM156 479h1v1h-1zM164 479h1v1h-1zM172 479h1v1h-1zM180 479h1v1h-1zM188 479h1v1h-1zM196 479h1v1h-1zM204 479h1v1h-1zM212 479h1v1h-1zM220 479h1v1h-1zM228 479h1v1h-1zM236 479h1v1h-1zM244 479h1v1h-1zM252 479h1v1h-1zM260 479h1v1h-1zM268 479h1v1h-1zM276 479h1v1h-1zM284 479h1v1h-1zM292 479h1v1h-1zM300 479h1v1h-1zM308 479h1v1h-1zM316 479h1v1h-1zM324 479h1v1h-1zM332 479h1v1h-1zM340 479h1v1h-1zM348 479h1v1h-1zM356 479h1v1h-1zM364 479h1v1h-1zM372 479h1v1h-1zM380 479h1v1h-1zM388 479h1v1h-1zM396 479h1v1h-1zM404 479h1v1h-1zM412 479h1v1h-1zM420 479h1v1h-1zM428 479h1v1h-1zM436 479h1v1h-1zM444 479h1v1h-1zM452 479h1v1h-1zM460 479h1v1h-1zM468 479h1v1h-1zM476 479h1v1h-1zM484 479h1v1h-1zM492 479h1v1h-1zM500 479h1v1h-1zM508 479h1v1h-1zM516 479h1v1h-1zM524 479h1v1h-1zM532 479h1v1h-1zM540 479h1v1h-1zM548 479h1v1h-1zM556 479h1v1h-1zM564 479h1v1h-1zM572 479h1v1h-1zM580 479h1v1h-1zM588 479h1v1h-1zM596 479h1v1h-1zM604 479h1v1h-1zM612 479h1v1h-1zM620 479h1v1h-1zM628 479h1v1h-1zM636 479h1v1h-1zM644 479h1v1h-1zM652 479h1v1h-1zM660 479h1v1h-1zM668 479h1v1h-1zM676 479h1v1h-1zM684 479h1v1h-1zM692 479h1v1h-1zM700 479h1v1h-1zM708 479h1v1h-1zM716 479h1v1h-1z" fill="#000"/>
<path d="M4 520h1v1h-1zM12 520h1v1h-1zM20 520h1v1h-1zM28 520h1v1h-1zM36 520h1v1h-1zM44 520h1v1h-1zM52 520h1v1h-1zM60 520h1v1h-1zM68 520h1v1h-1zM76 520h1v1h-1zM84 520h1v1h-1zM92 520h1v1h-1zM100 520h1v1h-1zM108 520h1v1h-1zM116 520h1v1h-1zM124 520h1v1h-1zM132 520h1v1h-1zM140 520h1v1h-1zM148 520h1v1h-1zM156 520h1v1h-1zM164 520h1v1h-1zM172 520h1v1h-1zM180 520h1v1h-1zM188 520h1v1h-1zM196 520h1v1h-1zM204 520h1v1h-1zM212 520h1v1h-1zM220 520h1v1h-1zM228 520h1v1h-1zM236 520h1v1h-1zM244 520h1v1h-1zM252 520h1v1h-1zM260 520h1v1h-1zM268 520h1v1h-1zM276 520h1v1h-1zM284 520h1v1h-1zM292 520h1v1h-1zM300 520h1v1h-1zM308 520h1v1h-1zM316 520h1v1h-1zM324 520h1v1h-1zM332 520h1v1h-1zM340 520h1v1h-1zM348 520h1v1h-1zM356 520h1v1h-1zM364 520h1v1h-1zM372 520h1v1h-1zM380 520h1v1h-1zM388 520h1v1h-1zM396 520h1v1h-1zM404 520h1v1h-1zM412 520h1v1h-1zM420 520h1v1h-1zM428 520h1v1h-1zM436 520h1v1h-1zM444 520h1v1h-1zM452 520h1v1h-1zM460 520h1v1h-1zM468 520h1v1h-1zM476 520h1v1h-1zM484 520h1v1h-1zM492 520h1v1h-1zM500 520h1v1h-1zM508 520h1v1h-1zM516 520h1v1h-1zM524 520h1v1h-1zM532 520h1v1h-1zM540 520h1v1h-1zM548 520h1v1h-1zM556 520h1v1h-1zM564 520h1v1h-1zM572 520h1v1h-1zM580 520h1v1h-1zM588 520h1v1h-1zM596 520h1v1h-1zM604 520h1v1h-1zM612 520h1v1h-1zM620 520h1v1h-1zM628 520h1v1h-1zM636 520h1v1h-1zM644 520h1v1h-1zM652 520h1v1h-1zM660 520h1v1h-1zM668 520h1v1h-1zM676 520h1v1h-1zM684 520h1v1h-1zM692 520h1v1h-1zM700 520h1v1h-1zM708 520h1v1h-1zM716 520h1v1h-1z" fill="#000"/>
<path d="M4 561h1v1h-1zM12 561h1v1h-1zM20 561h1v1h-1zM28 561h1v1h-1zM36 561h1v1h-1zM44 561h1v1h-1zM52 561h1v1h-1zM60 561h1v1h-1zM68 561h1v1h-1zM76 561h1v1h-1zM84 561h1v1h-1zM92 561h1v1h-1zM100 561h1v1h-1zM108 561h1v1h-1zM116 561h1v1h-1zM124 561h1v1h-1zM132 561h1v1h-1zM140 561h1v1h-1zM148 561h1v1h-1zM156 561h1v1h-1zM164 561h1v1h-1zM172 561h1v1h-1zM180 561h1v1h-1zM188 561h1v1h-1zM196 561h1v1h-1zM204 561h1v1h-1zM212 561h1v1h-1zM220 561h1v1h-1zM228 561h1v1h-1zM236 561h1v1h-1zM244 561h1v1h-1zM252 561h1v1h-1zM260 561h1v1h-1zM268 561h1v1h-1zM276 561h1v1h-1zM284 561h1v1h-1zM292 561h1v1h-1zM300 561h1v1h-1zM308 561h1v1h-1zM316 561h1v1h-1zM324 561h1v1h-1zM332 561h1v1h-1zM340 561h1v1h-1zM348 561h1v1h-1zM356 561h1v1h-1zM364 561h1v1h-1zM372 561h1v1h-1zM380 561h1v1h-1zM388 561h1v1h-1zM396 561h1v1h-1zM404 561h1v1h-1zM412 561h1v1h-1zM420 561h1v1h-1zM428 561h1v1h-1zM436 561h1v1h-1zM444 561h1v1h-1zM452 561h1v1h-1zM460 561h1v1h-1zM468 561h1v1h-1zM476 561h1v1h-1zM484 561h1v1h-1zM492 561h1v1h-1zM500 561h1v1h-1zM508 561h1v1h-1zM516 561h1v1h-1zM524 561h1v1h-1zM532 561h1v1h-1zM540 561h1v1h-1zM548 561h1v1h-1zM556 561h1v1h-1zM564 561h1v1h-1zM572 561h1v1h-1zM580 561h1v1h-1zM588 561h1v1h-1zM596 561h1v1h-1zM604 561h1v1h-1zM612 561h1v1h-1zM620 561h1v1h-1zM628 561h1v1h-1zM636 561h1v1h-1zM644 561h1v1h-1zM652 561h1v1h-1zM660 561h1v1h-1zM668 561h1v1h-1zM676 561h1v1h-1zM684 561h1v1h-1zM692 561h1v1h-1zM700 561h1v1h-1zM708 561h1v1h-1zM716 561h1v1h-1z" fill="#000"/>
<path d="M4 602h1v1h-1zM12 602h1v1h-1zM20 602h1v1h-1zM28 602h1v1h-1zM36 602h1v1h-1zM44 602h1v1h-1zM52 602h1v1h-1zM60 602h1v1h-1zM68 602h1v1h-1zM76 602h1v1h-1zM84 602h1v1h-1zM92 602h1v1h-1zM100 602h1v1h-1zM108 602h1v1h-1zM116 602h1v1h-1zM124 602h1v1h-1zM132 602h1v1h-1zM140 602h1v1h-1zM148 602h1v1h-1zM156 602h1v1h-1zM164 602h1v1h-1zM172 602h1v1h-1zM180 602h1v1h-1zM188 602h1v1h-1zM196 602h1v1h-1zM204 602h1v1h-1zM212 602h1v1h-1zM220 602h1v1h-1zM228 602h1v1h-1zM236 602h1v1h-1zM244 602h1v1h-1zM252 602h1v1h-1zM260 602h1v1h-1zM268 602h1v1h-1zM276 602h1v1h-1zM284 602h1v1h-1zM292 602h1v1h-1zM300 602h1v1h-1zM308 602h1v1h-1zM316 602h1v1h-1zM324 602h1v1h-1zM332 602h1v1h-1zM340 602h1v1h-1zM348 602h1v1h-1zM356 602h1v1h-1zM364 602h1v1h-1zM372 602h1v1h-1zM380 602h1v1h-1zM388 602h1v1h-1zM396 602h1v1h-1zM404 602h1v1h-1zM412 602h1v1h-1zM420 602h1v1h-1zM428 602h1v1h-1zM436 602h1v1h-1zM444 602h1v1h-1zM452 602h1v1h-1zM460 602h1v1h-1zM468 602h1v1h-1zM476 602h1v1h-1zM484 602h1v1h-1zM492 602h1v1h-1zM500 602h1v1h-1zM508 602h1v1h-1zM516 602h1v1h-1zM524 602h1v1h-1zM532 602h1v1h-1zM540 602h1v1h-1zM548 602h1v1h-1zM556 602h1v1h-1zM564 602h1v1h-1zM572 602h1v1h-1zM580 602h1v1h-1zM588 602h1v1h-1zM596 602h1v1h-1zM604 602h1v1h-1zM612 602h1v1h-1zM620 602h1v1h-1zM628 602h1v1h-1zM636 602h1v1h-1zM644 602h1v1h-1zM652 602h1v1h-1zM660 602h1v1h-1zM668 602h1v1h-1zM676 602h1v1h-1zM684 602h1v1h-1zM692 602h1v1h-1zM700 602h1v1h-1zM708 602h1v1h-1zM716 602h1v1h-1z" fill="#000"/>
<path d="M4 643h1v1h-1zM12 643h1v1h-1zM20 643h1v1h-1zM28 643h1v1h-1zM36 643h1v1h-1zM44 643h1v1h-1zM52 643h1v1h-1zM60 643h1v1h-1zM68 643h1v1h-1zM76 643h1v1h-1zM84 643h1v1h-1zM92 643h1v1h-1zM100 643h1v1h-1zM108 643h1v1h-1zM116 643h1v1h-1zM124 643h1v1h-1zM132 643h1v1h-1zM140 643h1v1h-1zM148 643h1v1h-1zM156 643h1v1h-1zM164 643h1v1h-1zM172 643h1v1h-1zM180 643h1v1h-1zM188 643h1v1h-1zM196 643h1v1h-1zM204 643h1v1h-1zM212 643h1v1h-1zM220 643h1v1h-1zM228 643h1v1h-1zM236 643h1v1h-1zM244 643h1v1h-1zM252 643h1v1h-1zM260 643h1v1h-1zM268 643h1v1h-1zM276 643h1v1h-1zM284 643h1v1h-1zM292 643h1v1h-1zM300 643h1v1h-1zM308 643h1v1h-1zM316 643h1v1h-1zM324 643h1v1h-1zM332 643h1v1h-1zM340 643h1v1h-1zM348 643h1v1h-1zM356 643h1v1h-1zM364 643h1v1h-1zM372 643h1v1h-1zM380 643h1v1h-1zM388 643h1v1h-1zM396 643h1v1h-1zM404 643h1v1h-1zM412 643h1v1h-1zM420 643h1v1h-1zM428 643h1v1h-1zM436 643h1v1h-1zM444 643h1v1h-1zM452 643h1v1h-1zM460 643h1v1h-1zM468 643h1v1h-1zM476 643h1v1h-1zM484 643h1v1h-1zM492 643h1v1h-1zM500 643h1v1h-1zM508 643h1v1h-1zM516 643h1v1h-1zM524 643h1v1h-1zM532 643h1v1h-1zM540 643h1v1h-1zM548 643h1v1h-1zM556 643h1v1h-1zM564 643h1v1h-1zM572 643h1v1h-1zM580 643h1v1h-1zM588 643h1v1h-1zM596 643h1v1h-1zM604 643h1v1h-1zM612 643h1v1h-1zM620 643h1v1h-1zM628 643h1v1h-1zM636 643h1v1h-1zM644 643h1v1h-1zM652 643h1v1h-1zM660 643h1v1h-1zM668 643h1v1h-1zM676 643h1v1h-1zM684 643h1v1h-1zM692 643h1v1h-1zM700 643h1v1h-1zM708 643h1v1h-1zM716 643h1v1h-1z" fill="#000"/>
<path d="M4 684h1v1h-1zM12 684h1v1h-1zM20 684h1v1h-1zM28 684h1v1h-1zM36 684h1v1h-1zM44 684h1v1h-1zM52 684h1v1h-1zM60 684h1v1h-1zM68 684h1v1h-1zM76 684h1v1h-1zM84 684h1v1h-1zM92 684h1v1h-1zM100 684h1v1h-1zM108 684h1v1h-1zM116 684h1v1h-1zM124 684h1v1h-1zM132 684h1v1h-1zM140 684h1v1h-1zM148 684h1v1h-1zM156 684h1v1h-1zM164 684h1v1h-1zM172 684h1v1h-1zM180 684h1v1h-1zM188 684h1v1h-1zM196 684h1v1h-1zM204 684h1v1h-1zM212 684h1v1h-1zM220 684h1v1h-1zM228 684h1v1h-1zM236 684h1v1h-1zM244 684h1v1h-1zM252 684h1v1h-1zM260 684h1v1h-1zM268 684h1v1h-1zM276 684h1v1h-1zM284 684h1v1h-1zM292 684h1v1h-1zM300 684h1v1h-1zM308 684h1v1h-1zM316 684h1v1h-1zM324 684h1v1h-1zM332 684h1v1h-1zM340 684h1v1h-1zM348 684h1v1h-1zM356 684h1v1h-1zM364 684h1v1h-1zM372 684h1v1h-1zM380 684h1v1h-1zM388 684h1v1h-1zM396 684h1v1h-1zM404 684h1v1h-1zM412 684h1v1h-1zM420 684h1v1h-1zM428 684h1v1h-1zM436 684h1v1h-1zM444 684h1v1h-1zM452 684h1v1h-1zM460 684h1v1h-1zM468 684h1v1h-1zM476 684h1v1h-1zM484 684h1v1h-1zM492 684h1v1h-1zM500 684h1v1h-1zM508 684h1v1h-1zM516 684h1v1h-1zM524 684h1v1h-1zM532 684h1v1h-1zM540 684h1v1h-1zM548 684h1v1h-1zM556 684h1v1h-1zM564 684h1v1h-1zM572 684h1v1h-1zM580 684h1v1h-1zM588 684h1v1h-1zM596 684h1v1h-1zM604 684h1v1h-1zM612 684h1v1h-1zM620 684h1v1h-1zM628 684h1v1h-1zM636 684h1v1h-1zM644 684h1v1h-1zM652 684h1v1h-1zM660 684h1v1h-1zM668 684h1v1h-1zM676 684h1v1h-1zM684 684h1v1h-1zM692 684h1v1h-1zM700 684h1v1h-1zM708 684h1v1h-1zM716 684h1v1h-1z" fill="#000"/>
<path d="M4 725h1v1h-1zM12 725h1v1h-1zM20 725h1v1h-1zM28 725h1v1h-1zM36 725h1v1h-1zM44 725h1v1h-1zM52 725h1v1h-1zM60 725h1v1h-1zM68 725h1v1h-1zM76 725h1v1h-1zM84 725h1v1h-1zM92 725h1v1h-1zM100 725h1v1h-1zM108 725h1v1h-1zM116 725h1v1h-1zM124 725h1v1h-1zM132 725h1v1h-1zM140 725h1v1h-1zM148 725h1v1h-1zM156 725h1v1h-1zM164 725h1v1h-1zM172 725h1v1h-1zM180 725h1v1h-1zM188 725h1v1h-1zM196 725h1v1h-1zM204 725h1v1h-1zM212 725h1v1h-1zM220 725h1v1h-1zM228 725h1v1h-1zM236 725h1v1h-1zM244 725h1v1h-1zM252 725h1v1h-1zM260 725h1v1h-1zM268 725h1v1h-1zM276 725h1v1h-1zM284 725h1v1h-1zM292 725h1v1h-1zM300 725h1v1h-1zM308 725h1v1h-1zM316 725h1v1h-1zM324 725h1v1h-1zM332 725h1v1h-1zM340 725h1v1h-1zM348 725h1v1h-1zM356 725h1v1h-1zM364 725h1v1h-1zM372 725h1v1h-1zM380 725h1v1h-1zM388 725h1v1h-1zM396 725h1v1h-1zM404 725h1v1h-1zM412 725h1v1h-1zM420 725h1v1h-1zM428 725h1v1h-1zM436 725h1v1h-1zM444 725h1v1h-1zM452 725h1v1h-1zM460 725h1v1h-1zM468 725h1v1h-1zM476 725h1v1h-1zM484 725h1v1h-1zM492 725h1v1h-1zM500 725h1v1h-1zM508 725h1v1h-1zM516 725h1v1h-1zM524 725h1v1h-1zM532 725h1v1h-1zM540 725h1v1h-1zM548 725h1v1h-1zM556 725h1v1h-1zM564 725h1v1h-1zM572 725h1v1h-1zM580 725h1v1h-1zM588 725h1v1h-1zM596 725h1v1h-1zM604 725h1v1h-1zM612 725h1v1h-1zM620 725h1v1h-1zM628 725h1v1h-1zM636 725h1v1h-1zM644 725h1v1h-1zM652 725h1v1h-1zM660 725h1v1h-1zM668 725h1v1h-1zM676 725h1v1h-1zM684 725h1v1h-1zM692 725h1v1h-1zM700 725h1v1h-1zM708 725h1v1h-1zM716 725h1v1h-1z" fill="#000"/>
<path d="M8 431h1v1h-1zM8 439h1v1h-1zM8 447h1v1h-1zM8 455h1v1h-1zM8 463h1v1h-1zM8 471h1v1h-1zM8 479h1v1h-1zM8 487h1v1h-1zM8 495h1v1h-1zM8 503h1v1h-1zM8 511h1v1h-1zM8 519h1v1h-1zM8 527h1v1h-1zM8 535h1v1h-1zM8 543h1v1h-1zM8 551h1v1h-1zM8 559h1v1h-1zM8 567h1v1h-1zM8 575h1v1h-1zM8 583h1v1h-1zM8 591h1v1h-1zM8 599h1v1h-1zM8 607h1v1h-1zM8 615h1v1h-1zM8 623h1v1h-1zM8 631h1v1h-1zM8 639h1v1h-1zM8 647h1v1h-1zM8 655h1v1h-1zM8 663h1v1h-1zM8 671h1v1h-1zM8 679h1v1h-1zM8 687h1v1h-1zM8 695h1v1h-1zM8 703h1v1h-1zM8 711h1v1h-1zM8 719h1v1h-1zM8 727h1v1h-1z" fill="#000"/>
<polyline points="4,566.5 5.5,566.5 8.5,566.5 12.5,566.5 15.5,566.5 19.5,566.5 23.5,567.5 26.5,571.5 30.5,573.5 34.5,577.5 37.5,582.5 41.5,593.5 45.5,593.5 48.5,593.5 52.5,593.5 56.5,593.5 59.5,593.5 63.5,593.5 67.5,593.5 70.5,593.5 74.5,586.5 78.5,586.5 81.5,586.5 85.5,586.5 89.5,586.5 92.5,586.5 96.5,586.5 100.5,586.5 103.5,586.5 107.5,586.5 111.5,586.5 114.5,583.5 118.5,533.5 122.5,533.5 125.5,533.5 129.5,450.5 133.5,450.5 136.5,450.5 140.5,450.5 144.5,450.5 147.5,450.5 151.5,450.5 155.5,450.5 158.5,450.5 162.5,450.5 166.5,450.5 169.5,450.5 173.5,450.5 177.5,450.5 180.5,450.5 184.5,450.5 188.5,450.5 191.5,450.5 195.5,566.5 199.5,566.5 202.5,566.5 206.5,566.5 210.5,550.5 213.5,550.5 217.5,550.5 221.5,550.5 224.5,550.5 228.5,550.5 232.5,550.5 235.5,550.5 239.5,550.5 243.5,550.5 246.5,550.5 250.5,550.5 253.5,550.5 257.5,550.5 261.5,550.5 264.5,550.5 268.5,550.5 272.5,550.5 275.5,587.5 279.5,587.5 283.5,591.5 286.5,591.5 290.5,591.5 294.5,591.5 297.5,581.5 301.5,581.5 305.5,581.5 308.5,581.5 312.5,581.5 316.5,581.5 319.5,581.5 323.5,581.5 327.5,581.5 330.5,581.5 334.5,581.5 338.5,581.5 341.5,581.5 345.5,581.5 349.5,581.5 352.5,576.5 356.5,576.5 360.5,576.5 363.5,576.5 367.5,576.5 371.5,576.5 374.5,576.5 378.5,576.5 382.5,576.5 385.5,576.5 389.5,576.5 393.5,576.5 396.5,576.5 400.5,576.5 404.5,576.5 407.5,570.5 411.5,570.5 415.5,570.5 418.5,570.5 422.5,570.5 426.5,570.5 429.5,570.5 433.5,570.5 437.5,570.5 440.5,570.5 444.5,570.5 448.5,569.5 451.5,565.5 455.5,558.5 459.5,557.5 462.5,553.5 466.5,553.5 470.5,550.5 473.5,546.5 477.5,543.5 481.5,543.5 484.5,543.5 488.5,543.5 491.5,543.5 495.5,543.5 499.5,543.5 502.5,537.5 506.5,537.5 510.5,537.5 513.5,537.5 517.5,537.5 521.5,537.5 524.5,537.5 528.5,537.5 532.5,537.5 535.5,537.5 539.5,535.5 543.5,535.5 546.5,535.5 550.5,535.5 554.5,438.5 557.5,438.5 561.5,438.5 565.5,438.5 568.5,438.5 572.5,438.5 576.5,438.5 579.5,438.5 583.5,438.5 587.5,438.5 590.5,438.5 594.5,438.5 598.5,438.5 601.5,438.5 605.5,438.5 609.5,438.5 612.5,438.5 616.5,438.5 620.5,518.5 623.5,518.5 627.5,518.5 631.5,518.5 634.5,514.5 638.5,514.5 642.5,510.5 645.5,510.5 649.5,503.5 653.5,503.5 656.5,503.5 660.5,503.5 664.5,503.5 667.5,503.5 671.5,503.5 675.5,503.5 678.5,503.5 682.5,503.5 686.5,503.5 689.5,503.5 693.5,503.5 697.5,503.5 700.5,503.5 704.5,503.5 708.5,503.5 711.5,503.5" fill="none" stroke="#ff0000" stroke-width="1"/>
<polyline points="4,642.5 5.5,642.5 8.5,642.5 12.5,642.5 15.5,642.5 19.5,642.5 23.5,642.5 26.5,642.5 30.5,642.5 34.5,642.5 37.5,642.5 41.5,642.5 45.5,642.5 48.5,663.5 52.5,663.5 56.5,682.5 59.5,682.5 63.5,682.5 67.5,682.5 70.5,682.5 74.5,682.5 78.5,682.5 81.5,682.5 85.5,682.5 89.5,682.5 92.5,682.5 96.5,682.5 100.5,682.5 103.5,682.5 107.5,682.5 111.5,682.5 114.5,682.5 118.5,682.5 122.5,627.5 125.5,627.5 129.5,627.5 133.5,627.5 136.5,627.5 140.5,627.5 144.5,627.5 147.5,627.5 151.5,627.5 155.5,627.5 158.5,627.5 162.5,627.5 166.5,627.5 169.5,627.5 173.5,612.5 177.5,612.5 180.5,612.5 184.5,612.5 188.5,612.5 191.5,612.5 195.5,612.5 199.5,612.5 202.5,612.5 206.5,612.5 210.5,612.5 213.5,612.5 217.5,612.5 221.5,612.5 224.5,612.5 228.5,612.5 232.5,602.5 235.5,613.5 239.5,615.5 243.5,625.5 246.5,645.5 250.5,725.5 253.5,725.5 257.5,725.5 261.5,725.5 264.5,725.5 268.5,725.5 272.5,725.5 275.5,725.5 279.5,725.5 283.5,725.5 286.5,725.5 290.5,725.5 294.5,725.5 297.5,725.5 301.5,725.5 305.5,725.5 308.5,725.5 312.5,725.5 316.5,722.5 319.5,722.5 323.5,722.5 327.5,722.5 330.5,722.5 334.5,722.5 338.5,722.5 341.5,659.5 345.5,659.5 349.5,659.5 352.5,659.5 356.5,659.5 360.5,659.5 363.5,659.5 367.5,659.5 371.5,659.5 374.5,659.5 378.5,659.5 382.5,659.5 385.5,659.5 389.5,636.5 393.5,630.5 396.5,630.5 400.5,630.5 404.5,630.5 407.5,630.5 411.5,630.5 415.5,630.5 418.5,630.5 422.5,630.5 426.5,630.5 429.5,630.5 433.5,630.5 437.5,630.5 440.5,608.5 444.5,608.5 448.5,608.5 451.5,608.5 455.5,608.5 459.5,608.5 462.5,608.5 466.5,608.5 470.5,608.5 473.5,608.5 477.5,608.5 481.5,608.5 484.5,608.5 488.5,607.5 491.5,572.5 495.5,572.5 499.5,572.5 502.5,572.5 506.5,572.5 510.5,572.5 513.5,572.5 517.5,565.5 521.5,565.5 524.5,565.5 528.5,565.5 532.5,565.5 535.5,565.5 539.5,565.5 543.5,565.5 546.5,565.5 550.5,565.5 554.5,564.5 557.5,564.5 561.5,564.5 565.5,564.5 568.5,564.5 572.5,564.5 576.5,564.5 579.5,564.5 583.5,564.5 587.5,564.5 590.5,564.5 594.5,564.5 598.5,564.5 601.5,553.5 605.5,553.5 609.5,551.5 612.5,549.5 616.5,549.5 620.5,549.5 623.5,549.5 627.5,549.5 631.5,549.5 634.5,549.5 638.5,549.5 642.5,549.5 645.5,549.5 649.5,549.5 653.5,549.5 656.5,549.5 660.5,549.5 664.5,549.5 667.5,546.5 671.5,546.5 675.5,546.5 678.5,544.5 682.5,544.5 686.5,531.5 689.5,531.5 693.5,531.5 697.5,526.5 700.5,526.5 704.5,526.5 708.5,526.5 711.5,526.5" fill="none" stroke="#009600" stroke-width="1"/>
<path d="M4 605h3v5h-3zM7 600h3v6h-3zM11 600h3v15h-3zM14 611h3v4h-3zM18 602h3v10h-3zM22 601h3v2h-3zM25 601h3v16h-3zM29 606h3v11h-3zM33 606h3v19h-3zM36 598h3v27h-3zM40 598h3v2h-3zM44 596h3v4h-3zM47 596h3v12h-3zM51 599h3v9h-3zM55 593h3v7h-3zM58 588h3v6h-3zM62 588h3v19h-3zM66 582h3v25h-3zM69 582h3v8h-3zM73 587h3v3h-3zM77 587h3v26h-3zM80 609h3v4h-3zM84 581h3v29h-3zM88 581h3v8h-3zM91 588h3v6h-3zM95 589h3v5h-3zM99 589h3v4h-3zM102 592h3v1h-3zM106 592h3v19h-3zM110 580h3v31h-3zM113 580h3v11h-3zM117 563h3v28h-3zM121 563h3v21h-3zM124 573h3v11h-3zM128 573h3v1h-3zM132 547h3v27h-3zM135 547h3v40h-3zM139 583h3v4h-3zM143 583h3v4h-3zM146 548h3v39h-3zM150 548h3v29h-3zM154 563h3v14h-3zM157 563h3v11h-3zM161 573h3v24h-3zM165 596h3v19h-3zM168 565h3v50h-3zM172 565h3v9h-3zM176 573h3v14h-3zM179 586h3v1h-3zM183 571h3v16h-3zM187 569h3v3h-3zM190 569h3v1h-3zM194 569h3v7h-3zM198 569h3v7h-3zM201 569h3v1h-3zM205 570h3v11h-3zM209 569h3v12h-3zM212 569h3v14h-3zM216 582h3v2h-3zM220 583h3v30h-3zM223 585h3v28h-3zM227 585h3v4h-3zM231 587h3v2h-3zM234 587h3v26h-3zM238 612h3v6h-3zM242 617h3v6h-3zM245 622h3v38h-3zM249 643h3v17h-3zM252 643h3v12h-3zM256 649h3v6h-3zM260 615h3v35h-3zM263 615h3v19h-3zM267 611h3v23h-3zM271 611h3v16h-3zM274 626h3v51h-3zM278 613h3v64h-3zM282 613h3v30h-3zM285 592h3v51h-3zM289 592h3v19h-3zM293 592h3v19h-3zM296 591h3v2h-3zM300 591h3v12h-3zM304 601h3v3h-3zM307 603h3v4h-3zM311 606h3v8h-3zM315 608h3v6h-3zM318 602h3v7h-3zM322 602h3v82h-3zM326 623h3v61h-3zM329 619h3v5h-3zM333 596h3v24h-3zM337 594h3v3h-3zM340 594h3v1h-3zM344 592h3v3h-3zM348 581h3v12h-3zM351 578h3v4h-3zM355 578h3v31h-3zM359 608h3v10h-3zM362 573h3v45h-3zM366 573h3v23h-3zM370 595h3v4h-3zM373 598h3v5h-3zM377 590h3v13h-3zM381 590h3v13h-3zM384 589h3v14h-3zM388 589h3v8h-3zM392 592h3v5h-3zM395 583h3v10h-3zM399 583h3v1h-3zM403 579h3v5h-3zM406 570h3v10h-3zM410 570h3v39h-3zM414 602h3v7h-3zM417 585h3v18h-3zM421 585h3v17h-3zM425 576h3v26h-3zM428 575h3v2h-3zM432 566h3v10h-3zM436 566h3v19h-3zM439 572h3v13h-3zM443 569h3v4h-3zM447 569h3v7h-3zM450 563h3v13h-3zM454 550h3v14h-3zM458 550h3v5h-3zM461 552h3v3h-3zM465 552h3v3h-3zM469 549h3v6h-3zM472 549h3v1h-3zM476 549h3v9h-3zM480 557h3v2h-3zM483 558h3v5h-3zM487 562h3v3h-3zM490 561h3v4h-3zM494 558h3v4h-3zM498 557h3v2h-3zM501 553h3v5h-3zM505 547h3v7h-3zM509 547h3v2h-3zM512 548h3v5h-3zM516 544h3v9h-3zM520 544h3v12h-3zM523 550h3v6h-3zM527 550h3v4h-3zM531 553h3v6h-3zM534 557h3v2h-3zM538 549h3v10h-3zM542 549h3v4h-3zM545 551h3v2h-3zM549 541h3v11h-3zM553 540h3v2h-3zM556 538h3v3h-3zM560 538h3v2h-3zM564 532h3v8h-3zM567 532h3v1h-3zM571 531h3v2h-3zM575 531h3v1h-3zM578 531h3v5h-3zM582 535h3v9h-3zM586 539h3v5h-3zM589 537h3v3h-3zM593 537h3v1h-3zM597 537h3v8h-3zM600 544h3v4h-3zM604 543h3v5h-3zM608 543h3v1h-3zM611 543h3v6h-3zM615 548h3v3h-3zM619 547h3v4h-3zM622 539h3v9h-3zM626 538h3v2h-3zM630 532h3v7h-3zM633 529h3v4h-3zM637 526h3v4h-3zM641 516h3v11h-3zM644 516h3v4h-3zM648 519h3v1h-3zM652 519h3v1h-3zM655 510h3v10h-3zM659 510h3v2h-3zM663 510h3v2h-3zM666 510h3v2h-3zM670 510h3v2h-3zM674 511h3v5h-3zM677 515h3v9h-3zM681 523h3v1h-3zM685 521h3v3h-3zM688 520h3v2h-3zM692 518h3v3h-3zM696 518h3v5h-3zM699 522h3v3h-3zM703 522h3v3h-3zM707 522h3v3h-3zM710 524h3v1h-3z" fill="#000"/>
<path d="M5 606h1v3h-1zM8 601h1v4h-1zM19 603h1v8h-1zM37 599h1v25h-1zM45 597h1v2h-1zM56 594h1v5h-1zM59 589h1v4h-1zM67 583h1v23h-1zM70 583h1v6h-1zM74 588h1v1h-1zM85 582h1v27h-1zM89 582h1v6h-1zM111 581h1v29h-1zM114 581h1v9h-1zM118 564h1v26h-1zM122 564h1v19h-1zM125 574h1v9h-1zM133 548h1v25h-1zM147 549h1v37h-1zM151 549h1v27h-1zM155 564h1v12h-1zM158 564h1v9h-1zM169 566h1v48h-1zM173 566h1v7h-1zM184 572h1v14h-1zM188 570h1v1h-1zM199 570h1v5h-1zM210 570h1v10h-1zM261 616h1v33h-1zM264 616h1v17h-1zM268 612h1v21h-1zM272 612h1v14h-1zM279 614h1v62h-1zM283 614h1v28h-1zM286 593h1v49h-1zM290 593h1v17h-1zM294 593h1v17h-1zM319 603h1v5h-1zM330 620h1v3h-1zM334 597h1v22h-1zM338 595h1v1h-1zM345 593h1v1h-1zM349 582h1v10h-1zM352 579h1v2h-1zM363 574h1v43h-1zM367 574h1v21h-1zM378 591h1v11h-1zM385 590h1v12h-1zM389 590h1v6h-1zM393 593h1v3h-1zM396 584h1v8h-1zM404 580h1v3h-1zM407 571h1v8h-1zM418 586h1v16h-1zM422 586h1v15h-1zM426 577h1v24h-1zM433 567h1v8h-1zM444 570h1v2h-1zM451 564h1v11h-1zM455 551h1v12h-1zM459 551h1v3h-1zM462 553h1v1h-1zM466 553h1v1h-1zM470 550h1v4h-1zM491 562h1v2h-1zM495 559h1v2h-1zM502 554h1v3h-1zM506 548h1v5h-1zM517 545h1v7h-1zM539 550h1v8h-1zM543 550h1v2h-1zM550 542h1v9h-1zM557 539h1v1h-1zM565 533h1v6h-1zM590 538h1v1h-1zM605 544h1v3h-1zM620 548h1v2h-1zM623 540h1v7h-1zM631 533h1v5h-1zM634 530h1v2h-1zM638 527h1v2h-1zM642 517h1v9h-1zM645 517h1v2h-1zM656 511h1v8h-1zM686 522h1v1h-1zM693 519h1v1h-1zM704 523h1v1h-1zM708 523h1v1h-1z" fill="#fff"/>
<path d="M11 578h3v6h-3zM8 584h9v1h-9zM9 585h7v2h-7zM10 587h5v2h-5zM11 589h3v2h-3zM12 591h1v2h-1zM25 579h3v6h-3zM22 585h9v1h-9zM23 586h7v2h-7zM24 588h5v2h-5zM25 590h3v2h-3zM26 592h1v2h-1zM47 574h3v6h-3zM44 580h9v1h-9zM45 581h7v2h-7zM46 583h5v2h-5zM47 585h3v2h-3zM48 587h1v2h-1zM62 566h3v6h-3zM59 572h9v1h-9zM60 573h7v2h-7zM61 575h5v2h-5zM62 577h3v2h-3zM63 579h1v2h-1zM77 565h3v6h-3zM74 571h9v1h-9zM75 572h7v2h-7zM76 574h5v2h-5zM77 576h3v2h-3zM78 578h1v2h-1zM91 566h3v6h-3zM88 572h9v1h-9zM89 573h7v2h-7zM90 575h5v2h-5zM91 577h3v2h-3zM92 579h1v2h-1zM135 525h3v6h-3zM132 531h9v1h-9zM133 532h7v2h-7zM134 534h5v2h-5zM135 536h3v2h-3zM136 538h1v2h-1zM161 551h3v6h-3zM158 557h9v1h-9zM159 558h7v2h-7zM160 560h5v2h-5zM161 562h3v2h-3zM162 564h1v2h-1zM176 551h3v6h-3zM173 557h9v1h-9zM174 558h7v2h-7zM175 560h5v2h-5zM176 562h3v2h-3zM177 564h1v2h-1zM194 547h3v6h-3zM191 553h9v1h-9zM192 554h7v2h-7zM193 556h5v2h-5zM194 558h3v2h-3zM195 560h1v2h-1zM205 548h3v6h-3zM202 554h9v1h-9zM203 555h7v2h-7zM204 557h5v2h-5zM205 559h3v2h-3zM206 561h1v2h-1zM274 604h3v6h-3zM271 610h9v1h-9zM272 611h7v2h-7zM273 613h5v2h-5zM274 615h3v2h-3zM275 617h1v2h-1zM300 569h3v6h-3zM297 575h9v1h-9zM298 576h7v2h-7zM299 578h5v2h-5zM300 580h3v2h-3zM301 582h1v2h-1zM355 556h3v6h-3zM352 562h9v1h-9zM353 563h7v2h-7zM354 565h5v2h-5zM355 567h3v2h-3zM356 569h1v2h-1zM370 573h3v6h-3zM367 579h9v1h-9zM368 580h7v2h-7zM369 582h5v2h-5zM370 584h3v2h-3zM371 586h1v2h-1zM410 548h3v6h-3zM407 554h9v1h-9zM408 555h7v2h-7zM409 557h5v2h-5zM410 559h3v2h-3zM411 561h1v2h-1zM436 544h3v6h-3zM433 550h9v1h-9zM434 551h7v2h-7zM435 553h5v2h-5zM436 555h3v2h-3zM437 557h1v2h-1zM476 527h3v6h-3zM473 533h9v1h-9zM474 534h7v2h-7zM475 536h5v2h-5zM476 538h3v2h-3zM477 540h1v2h-1zM512 526h3v6h-3zM509 532h9v1h-9zM510 533h7v2h-7zM511 535h5v2h-5zM512 537h3v2h-3zM513 539h1v2h-1zM578 509h3v6h-3zM575 515h9v1h-9zM576 516h7v2h-7zM577 518h5v2h-5zM578 520h3v2h-3zM579 522h1v2h-1zM597 515h3v6h-3zM594 521h9v1h-9zM595 522h7v2h-7zM596 524h5v2h-5zM597 526h3v2h-3zM598 528h1v2h-1zM611 521h3v6h-3zM608 527h9v1h-9zM609 528h7v2h-7zM610 530h5v2h-5zM611 532h3v2h-3zM612 534h1v2h-1zM652 497h3v6h-3zM649 503h9v1h-9zM650 504h7v2h-7zM651 506h5v2h-5zM652 508h3v2h-3zM653 510h1v2h-1zM670 488h3v6h-3zM667 494h9v1h-9zM668 495h7v2h-7zM669 497h5v2h-5zM670 499h3v2h-3zM671 501h1v2h-1zM696 496h3v6h-3zM693 502h9v1h-9zM694 503h7v2h-7zM695 505h5v2h-5zM696 507h3v2h-3zM697 509h1v2h-1zM710 502h3v6h-3zM707 508h9v1h-9zM708 509h7v2h-7zM709 511h5v2h-5zM710 513h3v2h-3zM711 515h1v2h-1z" fill="#ff0000"/>
<path d="M37 631h1v2h-1zM36 633h3v2h-3zM35 635h5v2h-5zM34 637h7v2h-7zM33 639h9v1h-9zM36 640h3v6h-3zM111 617h1v2h-1zM110 619h3v2h-3zM109 621h5v2h-5zM108 623h7v2h-7zM107 625h9v1h-9zM110 626h3v6h-3zM147 593h1v2h-1zM146 595h3v2h-3zM145 597h5v2h-5zM144 599h7v2h-7zM143 601h9v1h-9zM146 602h3v6h-3zM261 656h1v2h-1zM260 658h3v2h-3zM259 660h5v2h-5zM258 662h7v2h-7zM257 664h9v1h-9zM260 665h3v6h-3zM319 615h1v2h-1zM318 617h3v2h-3zM317 619h5v2h-5zM316 621h7v2h-7zM315 623h9v1h-9zM318 624h3v6h-3zM491 571h1v2h-1zM490 573h3v2h-3zM489 575h5v2h-5zM488 577h7v2h-7zM487 579h9v1h-9zM490 580h3v6h-3zM539 565h1v2h-1zM538 567h3v2h-3zM537 569h5v2h-5zM536 571h7v2h-7zM535 573h9v1h-9zM538 574h3v6h-3zM590 546h1v2h-1zM589 548h3v2h-3zM588 550h5v2h-5zM587 552h7v2h-7zM586 554h9v1h-9zM589 555h3v6h-3zM620 557h1v2h-1zM619 559h3v2h-3zM618 561h5v2h-5zM617 563h7v2h-7zM616 565h9v1h-9zM619 566h3v6h-3zM686 530h1v2h-1zM685 532h3v2h-3zM684 534h5v2h-5zM683 536h7v2h-7zM682 538h9v1h-9zM685 539h3v6h-3z" fill="#009600"/>
<rect x="10" y="418" width="433" height="14" fill="#fff"/>
<rect x="10" y="432" width="241" height="14" fill="#fff"/>
<rect x="3" y="423" width="1" height="309" fill="#000"/>
<rect x="719" y="423" width="1" height="309" fill="#000"/>
<rect x="3" y="423" width="7" height="1" fill="#000"/>
<rect x="443" y="423" width="277" height="1" fill="#000"/>
<rect x="3" y="731" width="717" height="1" fill="#000"/>
<rect x="720" y="437" width="4" height="1" fill="#000"/>
<rect x="720" y="479" width="4" height="1" fill="#000"/>
<rect x="720" y="520" width="4" height="1" fill="#000"/>
<rect x="720" y="561" width="4" height="1" fill="#000"/>
<rect x="720" y="602" width="4" height="1" fill="#000"/>
<rect x="720" y="643" width="4" height="1" fill="#000"/>
<rect x="720" y="684" width="4" height="1" fill="#000"/>
<rect x="720" y="725" width="4" height="1" fill="#000"/>
<rect x="8" y="732" width="1" height="7" fill="#000"/>
<rect x="81" y="732" width="1" height="7" fill="#000"/>
<rect x="151" y="732" width="1" height="7" fill="#000"/>
<rect x="228" y="732" width="1" height="7" fill="#000"/>
<rect x="305" y="732" width="1" height="7" fill="#000"/>
<rect x="382" y="732" width="1" height="7" fill="#000"/>
<rect x="455" y="732" width="1" height="7" fill="#000"/>
<rect x="535" y="732" width="1" height="7" fill="#000"/>
<rect x="612" y="732" width="1" height="7" fill="#000"/>
<rect x="689" y="732" width="1" height="7" fill="#000"/>
</svg>
<span style="left:762px;top:15px;letter-spacing:0.32px">70</span>
<span style="left:762px;top:70px;letter-spacing:0.32px">68</span>
<span style="left:762px;top:125px;letter-spacing:0.32px">66</span>
<span style="left:762px;top:180px;letter-spacing:0.32px">64</span>
<span style="left:762px;top:235px;letter-spacing:0.32px">62</span>
<span style="left:762px;top:289px;letter-spacing:0.32px">60</span>
<span style="left:12px;top:299px;letter-spacing:0.32px">2025</span>
<span style="left:85px;top:299px;letter-spacing:0.10px">Feb</span>
<span style="left:155px;top:299px;letter-spacing:-0.22px">Mar</span>
<span style="left:232px;top:299px;letter-spacing:-0.23px">Apr</span>
<span style="left:309px;top:299px;letter-spacing:-0.56px">May</span>
<span style="left:386px;top:299px;letter-spacing:0.21px">Jun</span>
<span style="left:459px;top:299px;letter-spacing:0.22px">Jul</span>
<span style="left:539px;top:299px;letter-spacing:-0.12px">Aug</span>
<span style="left:616px;top:299px;letter-spacing:0.21px">Sep</span>
<span style="left:693px;top:299px;letter-spacing:-0.22px">Oct</span>
<span style="left:10px;top:0px;letter-spacing:-0.17px">EMCB</span>
<span style="left:47px;top:0px">-</span>
<span style="left:54px;top:0px;letter-spacing:0.07px">Daily</span>
<span style="left:84px;top:0px;letter-spacing:0.26px">2025-10-09</span>
<span style="left:151px;top:0px;letter-spacing:0.16px">Open</span>
<span style="left:184px;top:0px;letter-spacing:0.10px">67.13,</span>
<span style="left:221px;top:0px;letter-spacing:0.33px">Hi</span>
<span style="left:236px;top:0px;letter-spacing:0.10px">67.13,</span>
<span style="left:273px;top:0px;letter-spacing:0.32px">Lo</span>
<span style="left:290px;top:0px;letter-spacing:0.06px">66.7,</span>
<span style="left:320px;top:0px;letter-spacing:0.46px">Close</span>
<span style="left:356px;top:0px;letter-spacing:0.23px">66.8949</span>
<span style="left:404px;top:0px;letter-spacing:0.09px">(-0.0%)</span>
<span style="left:10px;top:14px;color:#ff0000;letter-spacing:0.32px">100%</span>
<span style="left:45px;top:14px">=</span>
<span style="left:55px;top:14px;letter-spacing:0.10px">70.07,</span>
<span style="left:92px;top:14px;color:#ff00ff;letter-spacing:0.19px">78.6%</span>
<span style="left:130px;top:14px">=</span>
<span style="left:140px;top:14px;letter-spacing:0.10px">67.93,</span>
<span style="left:177px;top:14px;color:#96a4bc;letter-spacing:0.19px">61.8%</span>
<span style="left:215px;top:14px">=</span>
<span style="left:225px;top:14px;letter-spacing:0.10px">66.61,</span>
<span style="left:262px;top:14px;color:#0000ff;letter-spacing:0.32px">50%</span>
<span style="left:290px;top:14px">=</span>
<span style="left:300px;top:14px;letter-spacing:0.10px">65.54,</span>
<span style="left:337px;top:14px;color:#a0a0a6;letter-spacing:0.19px">38.2%</span>
<span style="left:375px;top:14px">=</span>
<span style="left:385px;top:14px;letter-spacing:0.10px">64.47,</span>
<span style="left:422px;top:14px;color:#ff00ff;letter-spacing:0.19px">23.6%</span>
<span style="left:460px;top:14px">=</span>
<span style="left:470px;top:14px;letter-spacing:0.10px">62.95,</span>
<span style="left:507px;top:14px;color:#009000;letter-spacing:0.33px">0%</span>
<span style="left:528px;top:14px">=</span>
<span style="left:538px;top:14px;letter-spacing:0.19px">61.01</span>
<span style="left:769px;top:327px;letter-spacing:0.31px">1</span>
<span style="left:769px;top:351px;letter-spacing:0.31px">0</span>
<span style="left:765px;top:374px;letter-spacing:0.16px">-1</span>
<span style="left:765px;top:397px;letter-spacing:0.16px">-2</span>
<span style="left:10px;top:314px;letter-spacing:-0.17px">EMCB</span>
<span style="left:47px;top:314px">-</span>
<span style="left:54px;top:314px;color:#808000;letter-spacing:0.21px">ShortPds</span>
<span style="left:108px;top:314px">=</span>
<span style="left:118px;top:314px;letter-spacing:0.05px">-0.20,</span>
<span style="left:152px;top:314px;color:#808000;letter-spacing:0.21px">ShortPds</span>
<span style="left:206px;top:314px">=</span>
<span style="left:216px;top:314px;letter-spacing:0.06px">0.06,</span>
<span style="left:246px;top:314px;color:#0000ff;letter-spacing:0.38px">LongPds</span>
<span style="left:299px;top:314px">=</span>
<span style="left:309px;top:314px;letter-spacing:0.06px">0.47,</span>
<span style="left:339px;top:314px;color:#0000ff;letter-spacing:0.38px">LongPds</span>
<span style="left:392px;top:314px">=</span>
<span style="left:402px;top:314px;letter-spacing:0.16px">0.67</span>
<span style="left:762px;top:430px;letter-spacing:0.32px">69</span>
<span style="left:762px;top:472px;letter-spacing:0.32px">68</span>
<span style="left:762px;top:513px;letter-spacing:0.32px">67</span>
<span style="left:762px;top:554px;letter-spacing:0.32px">66</span>
<span style="left:762px;top:595px;letter-spacing:0.32px">65</span>
<span style="left:762px;top:636px;letter-spacing:0.32px">64</span>
<span style="left:762px;top:677px;letter-spacing:0.32px">63</span>
<span style="left:762px;top:718px;letter-spacing:0.32px">62</span>
<span style="left:12px;top:732px;letter-spacing:0.32px">2025</span>
<span style="left:85px;top:732px;letter-spacing:0.10px">Feb</span>
<span style="left:155px;top:732px;letter-spacing:-0.22px">Mar</span>
<span style="left:232px;top:732px;letter-spacing:-0.23px">Apr</span>
<span style="left:309px;top:732px;letter-spacing:-0.56px">May</span>
<span style="left:386px;top:732px;letter-spacing:0.21px">Jun</span>
<span style="left:459px;top:732px;letter-spacing:0.22px">Jul</span>
<span style="left:539px;top:732px;letter-spacing:-0.12px">Aug</span>
<span style="left:616px;top:732px;letter-spacing:0.21px">Sep</span>
<span style="left:693px;top:732px;letter-spacing:-0.22px">Oct</span>
<span style="left:10px;top:418px;letter-spacing:-0.17px">EMCB</span>
<span style="left:47px;top:418px">-</span>
<span style="left:54px;top:418px;letter-spacing:0.07px">Daily</span>
<span style="left:84px;top:418px;letter-spacing:0.26px">2025-10-09</span>
<span style="left:151px;top:418px;letter-spacing:0.16px">Open</span>
<span style="left:184px;top:418px;letter-spacing:0.16px">67.13,Hi</span>
<span style="left:233px;top:418px;letter-spacing:0.16px">67.13,Lo</span>
<span style="left:284px;top:418px;letter-spacing:0.06px">66.7,</span>
<span style="left:314px;top:418px;letter-spacing:0.46px">Close</span>
<span style="left:350px;top:418px;letter-spacing:0.23px">66.8949</span>
<span style="left:398px;top:418px;letter-spacing:0.09px">(-0.0%)</span>
<span style="left:10px;top:432px;letter-spacing:0.10px">Vol</span>
<span style="left:30px;top:432px;letter-spacing:0.23px">350,500</span>
<span style="left:78px;top:432px;color:#ff0000;letter-spacing:0.27px">graph8</span>
<span style="left:120px;top:432px">=</span>
<span style="left:130px;top:432px;letter-spacing:0.10px">67.42,</span>
<span style="left:167px;top:432px;color:#008000;letter-spacing:0.27px">graph9</span>
<span style="left:209px;top:432px">=</span>
<span style="left:219px;top:432px;letter-spacing:0.19px">66.85</span>
</div>
</body></html>
